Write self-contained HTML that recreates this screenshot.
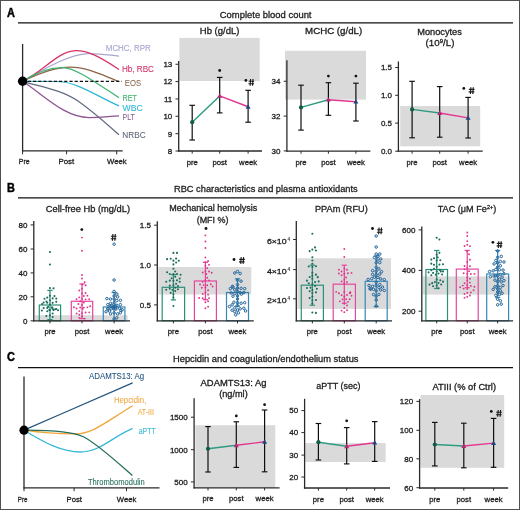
<!DOCTYPE html>
<html><head><meta charset="utf-8"><style>
html,body{margin:0;padding:0;background:#fff;}
svg{display:block;font-family:"Liberation Sans", sans-serif;will-change:transform;}
</style></head><body>
<svg width="520" height="510" viewBox="0 0 520 510">
<rect width="520" height="510" fill="#fff"/>
<rect x="0.50" y="0.50" width="519.00" height="509.00" fill="none" stroke="#505050" stroke-width="1"/>
<text x="7.00" y="16.80" font-size="12.3" fill="#000" text-anchor="start" font-weight="bold" stroke="#000" stroke-width="0.45" textLength="7.90" lengthAdjust="spacingAndGlyphs">A</text>
<text x="7.00" y="191.50" font-size="12.3" fill="#000" text-anchor="start" font-weight="bold" stroke="#000" stroke-width="0.45" textLength="7.90" lengthAdjust="spacingAndGlyphs">B</text>
<text x="7.00" y="361.00" font-size="12.3" fill="#000" text-anchor="start" font-weight="bold" stroke="#000" stroke-width="0.45" textLength="7.90" lengthAdjust="spacingAndGlyphs">C</text>
<line x1="18.00" y1="22.90" x2="513.00" y2="22.90" stroke="#111" stroke-width="1.25"/>
<line x1="18.00" y1="197.90" x2="513.00" y2="197.90" stroke="#111" stroke-width="1.25"/>
<line x1="18.00" y1="367.60" x2="513.00" y2="367.60" stroke="#111" stroke-width="1.25"/>
<text x="219.80" y="17.50" font-size="9.6" fill="#222" text-anchor="start" font-weight="normal" stroke="#222" stroke-width="0.3" textLength="91.70" lengthAdjust="spacingAndGlyphs">Complete blood count</text>
<text x="174.00" y="192.10" font-size="9.6" fill="#222" text-anchor="start" font-weight="normal" stroke="#222" stroke-width="0.3" textLength="183.70" lengthAdjust="spacingAndGlyphs">RBC characteristics and plasma antioxidants</text>
<text x="173.00" y="361.60" font-size="9.6" fill="#222" text-anchor="start" font-weight="normal" stroke="#222" stroke-width="0.3" textLength="185.50" lengthAdjust="spacingAndGlyphs">Hepcidin and coagulation/endothelium status</text>
<line x1="22.60" y1="44.00" x2="22.60" y2="151.50" stroke="#2a2a2a" stroke-width="1.3"/>
<line x1="22.00" y1="150.90" x2="122.70" y2="150.90" stroke="#2a2a2a" stroke-width="1.3"/>
<line x1="22.60" y1="150.90" x2="22.60" y2="154.30" stroke="#2a2a2a" stroke-width="1"/>
<line x1="66.60" y1="150.90" x2="66.60" y2="154.30" stroke="#2a2a2a" stroke-width="1"/>
<line x1="116.70" y1="150.90" x2="116.70" y2="154.30" stroke="#2a2a2a" stroke-width="1"/>
<text x="18.80" y="163.90" font-size="8" fill="#222" text-anchor="start" font-weight="normal" stroke="#222" stroke-width="0.3" textLength="10.80" lengthAdjust="spacingAndGlyphs">Pre</text>
<text x="58.50" y="163.90" font-size="8" fill="#222" text-anchor="start" font-weight="normal" stroke="#222" stroke-width="0.3" textLength="15.70" lengthAdjust="spacingAndGlyphs">Post</text>
<text x="107.00" y="163.90" font-size="8" fill="#222" text-anchor="start" font-weight="normal" stroke="#222" stroke-width="0.3" textLength="19.60" lengthAdjust="spacingAndGlyphs">Week</text>
<path d="M22.6,81.3 C40,72 65,55 88,53.6 C100,53.3 110,55.3 119,56.1" stroke="#a9a7d0" stroke-width="1.25" fill="none"/>
<path d="M22.6,81.3 C42,72 58,52 73.6,50.8 C88,50 100,57 119,69.4" stroke="#d6336a" stroke-width="1.25" fill="none"/>
<path d="M22.6,81.3 C40,73 55,67.3 70,67.2 C88,67.2 104,76 119,81.5" stroke="#8d6447" stroke-width="1.25" fill="none"/>
<path d="M22.6,81.3 C35,73 48,67.5 62.8,67.5 C75,67.5 95,82 119,97.8" stroke="#3db370" stroke-width="1.25" fill="none"/>
<path d="M22.6,81.3 L58,81.5 C78,82 100,98 119,105.9" stroke="#2bb6d6" stroke-width="1.25" fill="none"/>
<path d="M22.6,81.3 C42,87 62,90 78,101 C95,113 110,127 119,134.7" stroke="#626c84" stroke-width="1.25" fill="none"/>
<path d="M22.6,81.3 C45,96 65,117.5 89,117.5 C100,117.5 110,116.2 119,115.9" stroke="#8d5291" stroke-width="1.25" fill="none"/>
<line x1="22.60" y1="81.40" x2="121.90" y2="81.40" stroke="#111" stroke-width="1.1" stroke-dasharray="3.2,2"/>
<circle cx="22.6" cy="81.3" r="4.7" fill="#000"/>
<text x="105.80" y="50.60" font-size="8.5" fill="#a3a3cc" text-anchor="start" font-weight="normal" stroke="#a3a3cc" stroke-width="0.08" textLength="44.90" lengthAdjust="spacingAndGlyphs">MCHC, RPR</text>
<text x="121.90" y="72.30" font-size="8.5" fill="#d42d62" text-anchor="start" font-weight="normal" stroke="#d42d62" stroke-width="0.08" textLength="32.10" lengthAdjust="spacingAndGlyphs">Hb, RBC</text>
<text x="124.80" y="85.90" font-size="8.5" fill="#8d6a4f" text-anchor="start" font-weight="normal" stroke="#8d6a4f" stroke-width="0.08" textLength="16.20" lengthAdjust="spacingAndGlyphs">EOS</text>
<text x="122.50" y="100.90" font-size="8.5" fill="#3fb06f" text-anchor="start" font-weight="normal" stroke="#3fb06f" stroke-width="0.08" textLength="14.40" lengthAdjust="spacingAndGlyphs">RET</text>
<text x="122.50" y="110.80" font-size="8.5" fill="#2fb6d8" text-anchor="start" font-weight="normal" stroke="#2fb6d8" stroke-width="0.08" textLength="20.40" lengthAdjust="spacingAndGlyphs">WBC</text>
<text x="122.50" y="120.10" font-size="8.5" fill="#8b5a8d" text-anchor="start" font-weight="normal" stroke="#8b5a8d" stroke-width="0.08" textLength="12.30" lengthAdjust="spacingAndGlyphs">PLT</text>
<text x="122.30" y="137.80" font-size="8.5" fill="#5f687c" text-anchor="start" font-weight="normal" stroke="#5f687c" stroke-width="0.08" textLength="23.30" lengthAdjust="spacingAndGlyphs">NRBC</text>
<rect x="179.40" y="37.90" width="80.30" height="43.10" fill="#dadada" stroke="none" stroke-width="1"/>
<line x1="178.70" y1="61.00" x2="178.70" y2="151.65" stroke="#2a2a2a" stroke-width="1.3"/>
<line x1="178.05" y1="151.00" x2="262.00" y2="151.00" stroke="#2a2a2a" stroke-width="1.3"/>
<line x1="175.50" y1="151.00" x2="178.70" y2="151.00" stroke="#2a2a2a" stroke-width="1"/>
<text x="172.30" y="153.85" font-size="8" fill="#1e1e1e" text-anchor="end" font-weight="normal" stroke="#1e1e1e" stroke-width="0.3">8</text>
<line x1="175.50" y1="133.65" x2="178.70" y2="133.65" stroke="#2a2a2a" stroke-width="1"/>
<text x="172.30" y="136.50" font-size="8" fill="#1e1e1e" text-anchor="end" font-weight="normal" stroke="#1e1e1e" stroke-width="0.3">9</text>
<line x1="175.50" y1="116.30" x2="178.70" y2="116.30" stroke="#2a2a2a" stroke-width="1"/>
<text x="172.30" y="119.15" font-size="8" fill="#1e1e1e" text-anchor="end" font-weight="normal" stroke="#1e1e1e" stroke-width="0.3">10</text>
<line x1="175.50" y1="98.95" x2="178.70" y2="98.95" stroke="#2a2a2a" stroke-width="1"/>
<text x="172.30" y="101.80" font-size="8" fill="#1e1e1e" text-anchor="end" font-weight="normal" stroke="#1e1e1e" stroke-width="0.3">11</text>
<line x1="175.50" y1="81.60" x2="178.70" y2="81.60" stroke="#2a2a2a" stroke-width="1"/>
<text x="172.30" y="84.45" font-size="8" fill="#1e1e1e" text-anchor="end" font-weight="normal" stroke="#1e1e1e" stroke-width="0.3">12</text>
<line x1="175.50" y1="64.25" x2="178.70" y2="64.25" stroke="#2a2a2a" stroke-width="1"/>
<text x="172.30" y="67.10" font-size="8" fill="#1e1e1e" text-anchor="end" font-weight="normal" stroke="#1e1e1e" stroke-width="0.3">13</text>
<line x1="192.20" y1="151.00" x2="192.20" y2="153.60" stroke="#2a2a2a" stroke-width="1"/>
<text x="192.20" y="164.50" font-size="7.7" fill="#1e1e1e" text-anchor="middle" font-weight="normal" stroke="#1e1e1e" stroke-width="0.3">pre</text>
<line x1="219.70" y1="151.00" x2="219.70" y2="153.60" stroke="#2a2a2a" stroke-width="1"/>
<text x="219.70" y="164.50" font-size="7.7" fill="#1e1e1e" text-anchor="middle" font-weight="normal" stroke="#1e1e1e" stroke-width="0.3">post</text>
<line x1="248.10" y1="151.00" x2="248.10" y2="153.60" stroke="#2a2a2a" stroke-width="1"/>
<text x="248.10" y="164.50" font-size="7.7" fill="#1e1e1e" text-anchor="middle" font-weight="normal" stroke="#1e1e1e" stroke-width="0.3">week</text>
<line x1="192.20" y1="105.30" x2="192.20" y2="140.00" stroke="#0e0e0e" stroke-width="1.2"/>
<line x1="189.40" y1="105.30" x2="195.00" y2="105.30" stroke="#0e0e0e" stroke-width="1.15"/>
<line x1="189.40" y1="140.00" x2="195.00" y2="140.00" stroke="#0e0e0e" stroke-width="1.15"/>
<line x1="219.70" y1="77.40" x2="219.70" y2="112.90" stroke="#0e0e0e" stroke-width="1.2"/>
<line x1="216.90" y1="77.40" x2="222.50" y2="77.40" stroke="#0e0e0e" stroke-width="1.15"/>
<line x1="216.90" y1="112.90" x2="222.50" y2="112.90" stroke="#0e0e0e" stroke-width="1.15"/>
<line x1="248.10" y1="90.30" x2="248.10" y2="122.20" stroke="#0e0e0e" stroke-width="1.2"/>
<line x1="245.30" y1="90.30" x2="250.90" y2="90.30" stroke="#0e0e0e" stroke-width="1.15"/>
<line x1="245.30" y1="122.20" x2="250.90" y2="122.20" stroke="#0e0e0e" stroke-width="1.15"/>
<line x1="192.20" y1="122.20" x2="219.70" y2="95.90" stroke="#2e9b82" stroke-width="1.45"/>
<line x1="219.70" y1="95.90" x2="248.10" y2="106.80" stroke="#e2368f" stroke-width="1.45"/>
<circle cx="192.2" cy="122.2" r="2.1" fill="#155c48"/>
<path d="M217.20,97.80 L222.20,97.80 L219.70,93.40 Z" fill="#b02a72"/>
<path d="M245.60,108.70 L250.60,108.70 L248.10,104.30 Z" fill="#1f4580"/>
<circle cx="219.70" cy="70.50" r="1.4" fill="#111"/>
<circle cx="245.90" cy="80.40" r="1.4" fill="#111"/>
<path d="M250.10,85.80 L250.60,79.00 M252.50,85.80 L253.00,79.00 M248.60,81.20 L254.20,81.20 M248.40,83.70 L254.00,83.70" stroke="#1a1a1a" stroke-width="1.15" fill="none"/>
<text x="199.80" y="34.00" font-size="9.2" fill="#222" text-anchor="start" font-weight="normal" stroke="#222" stroke-width="0.3" textLength="39.60" lengthAdjust="spacingAndGlyphs">Hb (g/dL)</text>
<rect x="285.00" y="50.80" width="81.00" height="48.80" fill="#dadada" stroke="none" stroke-width="1"/>
<line x1="286.90" y1="60.30" x2="286.90" y2="151.75" stroke="#2a2a2a" stroke-width="1.3"/>
<line x1="286.25" y1="151.10" x2="370.40" y2="151.10" stroke="#2a2a2a" stroke-width="1.3"/>
<line x1="283.70" y1="150.90" x2="286.90" y2="150.90" stroke="#2a2a2a" stroke-width="1"/>
<text x="280.50" y="153.75" font-size="8" fill="#1e1e1e" text-anchor="end" font-weight="normal" stroke="#1e1e1e" stroke-width="0.3">30</text>
<line x1="283.70" y1="116.10" x2="286.90" y2="116.10" stroke="#2a2a2a" stroke-width="1"/>
<text x="280.50" y="118.95" font-size="8" fill="#1e1e1e" text-anchor="end" font-weight="normal" stroke="#1e1e1e" stroke-width="0.3">32</text>
<line x1="283.70" y1="81.25" x2="286.90" y2="81.25" stroke="#2a2a2a" stroke-width="1"/>
<text x="280.50" y="84.10" font-size="8" fill="#1e1e1e" text-anchor="end" font-weight="normal" stroke="#1e1e1e" stroke-width="0.3">34</text>
<line x1="301.00" y1="151.10" x2="301.00" y2="153.70" stroke="#2a2a2a" stroke-width="1"/>
<text x="301.00" y="164.60" font-size="7.7" fill="#1e1e1e" text-anchor="middle" font-weight="normal" stroke="#1e1e1e" stroke-width="0.3">pre</text>
<line x1="328.40" y1="151.10" x2="328.40" y2="153.70" stroke="#2a2a2a" stroke-width="1"/>
<text x="328.40" y="164.60" font-size="7.7" fill="#1e1e1e" text-anchor="middle" font-weight="normal" stroke="#1e1e1e" stroke-width="0.3">post</text>
<line x1="355.90" y1="151.10" x2="355.90" y2="153.70" stroke="#2a2a2a" stroke-width="1"/>
<text x="355.90" y="164.60" font-size="7.7" fill="#1e1e1e" text-anchor="middle" font-weight="normal" stroke="#1e1e1e" stroke-width="0.3">week</text>
<line x1="301.00" y1="85.20" x2="301.00" y2="130.10" stroke="#0e0e0e" stroke-width="1.2"/>
<line x1="298.20" y1="85.20" x2="303.80" y2="85.20" stroke="#0e0e0e" stroke-width="1.15"/>
<line x1="298.20" y1="130.10" x2="303.80" y2="130.10" stroke="#0e0e0e" stroke-width="1.15"/>
<line x1="328.40" y1="82.70" x2="328.40" y2="115.30" stroke="#0e0e0e" stroke-width="1.2"/>
<line x1="325.60" y1="82.70" x2="331.20" y2="82.70" stroke="#0e0e0e" stroke-width="1.15"/>
<line x1="325.60" y1="115.30" x2="331.20" y2="115.30" stroke="#0e0e0e" stroke-width="1.15"/>
<line x1="355.90" y1="83.20" x2="355.90" y2="121.00" stroke="#0e0e0e" stroke-width="1.2"/>
<line x1="353.10" y1="83.20" x2="358.70" y2="83.20" stroke="#0e0e0e" stroke-width="1.15"/>
<line x1="353.10" y1="121.00" x2="358.70" y2="121.00" stroke="#0e0e0e" stroke-width="1.15"/>
<line x1="301.00" y1="107.40" x2="328.40" y2="99.70" stroke="#2e9b82" stroke-width="1.45"/>
<line x1="328.40" y1="99.70" x2="355.90" y2="101.70" stroke="#e2368f" stroke-width="1.45"/>
<circle cx="301" cy="107.4" r="2.1" fill="#155c48"/>
<path d="M325.90,101.60 L330.90,101.60 L328.40,97.20 Z" fill="#b02a72"/>
<path d="M353.40,103.60 L358.40,103.60 L355.90,99.20 Z" fill="#1f4580"/>
<circle cx="328.40" cy="76.10" r="1.4" fill="#111"/>
<circle cx="355.90" cy="76.10" r="1.4" fill="#111"/>
<text x="305.10" y="33.80" font-size="9.2" fill="#222" text-anchor="start" font-weight="normal" stroke="#222" stroke-width="0.3" textLength="57.10" lengthAdjust="spacingAndGlyphs">MCHC (g/dL)</text>
<rect x="400.20" y="106.00" width="80.00" height="40.30" fill="#dadada" stroke="none" stroke-width="1"/>
<line x1="398.40" y1="61.40" x2="398.40" y2="151.75" stroke="#2a2a2a" stroke-width="1.3"/>
<line x1="397.75" y1="151.10" x2="482.70" y2="151.10" stroke="#2a2a2a" stroke-width="1.3"/>
<line x1="395.20" y1="151.20" x2="398.40" y2="151.20" stroke="#2a2a2a" stroke-width="1"/>
<text x="392.00" y="154.05" font-size="8" fill="#1e1e1e" text-anchor="end" font-weight="normal" stroke="#1e1e1e" stroke-width="0.3">0.0</text>
<line x1="395.20" y1="123.10" x2="398.40" y2="123.10" stroke="#2a2a2a" stroke-width="1"/>
<text x="392.00" y="125.95" font-size="8" fill="#1e1e1e" text-anchor="end" font-weight="normal" stroke="#1e1e1e" stroke-width="0.3">0.5</text>
<line x1="395.20" y1="95.30" x2="398.40" y2="95.30" stroke="#2a2a2a" stroke-width="1"/>
<text x="392.00" y="98.15" font-size="8" fill="#1e1e1e" text-anchor="end" font-weight="normal" stroke="#1e1e1e" stroke-width="0.3">1.0</text>
<line x1="395.20" y1="67.50" x2="398.40" y2="67.50" stroke="#2a2a2a" stroke-width="1"/>
<text x="392.00" y="70.35" font-size="8" fill="#1e1e1e" text-anchor="end" font-weight="normal" stroke="#1e1e1e" stroke-width="0.3">1.5</text>
<line x1="412.10" y1="151.10" x2="412.10" y2="153.70" stroke="#2a2a2a" stroke-width="1"/>
<text x="412.10" y="164.60" font-size="7.7" fill="#1e1e1e" text-anchor="middle" font-weight="normal" stroke="#1e1e1e" stroke-width="0.3">pre</text>
<line x1="439.70" y1="151.10" x2="439.70" y2="153.70" stroke="#2a2a2a" stroke-width="1"/>
<text x="439.70" y="164.60" font-size="7.7" fill="#1e1e1e" text-anchor="middle" font-weight="normal" stroke="#1e1e1e" stroke-width="0.3">post</text>
<line x1="468.10" y1="151.10" x2="468.10" y2="153.70" stroke="#2a2a2a" stroke-width="1"/>
<text x="468.10" y="164.60" font-size="7.7" fill="#1e1e1e" text-anchor="middle" font-weight="normal" stroke="#1e1e1e" stroke-width="0.3">week</text>
<line x1="412.10" y1="81.30" x2="412.10" y2="137.80" stroke="#0e0e0e" stroke-width="1.2"/>
<line x1="409.30" y1="81.30" x2="414.90" y2="81.30" stroke="#0e0e0e" stroke-width="1.15"/>
<line x1="409.30" y1="137.80" x2="414.90" y2="137.80" stroke="#0e0e0e" stroke-width="1.15"/>
<line x1="439.70" y1="86.60" x2="439.70" y2="137.20" stroke="#0e0e0e" stroke-width="1.2"/>
<line x1="436.90" y1="86.60" x2="442.50" y2="86.60" stroke="#0e0e0e" stroke-width="1.15"/>
<line x1="436.90" y1="137.20" x2="442.50" y2="137.20" stroke="#0e0e0e" stroke-width="1.15"/>
<line x1="468.10" y1="97.40" x2="468.10" y2="138.00" stroke="#0e0e0e" stroke-width="1.2"/>
<line x1="465.30" y1="97.40" x2="470.90" y2="97.40" stroke="#0e0e0e" stroke-width="1.15"/>
<line x1="465.30" y1="138.00" x2="470.90" y2="138.00" stroke="#0e0e0e" stroke-width="1.15"/>
<line x1="412.10" y1="109.40" x2="439.70" y2="113.00" stroke="#2e9b82" stroke-width="1.45"/>
<line x1="439.70" y1="113.00" x2="468.10" y2="117.90" stroke="#e2368f" stroke-width="1.45"/>
<circle cx="412.1" cy="109.4" r="2.1" fill="#155c48"/>
<path d="M437.20,114.90 L442.20,114.90 L439.70,110.50 Z" fill="#b02a72"/>
<path d="M465.60,119.80 L470.60,119.80 L468.10,115.40 Z" fill="#1f4580"/>
<circle cx="463.80" cy="88.40" r="1.4" fill="#111"/>
<path d="M470.40,94.00 L470.90,87.20 M472.80,94.00 L473.30,87.20 M468.90,89.40 L474.50,89.40 M468.70,91.90 L474.30,91.90" stroke="#1a1a1a" stroke-width="1.15" fill="none"/>
<text x="417.20" y="34.60" font-size="9.2" fill="#222" text-anchor="start" font-weight="normal" stroke="#222" stroke-width="0.3" textLength="44.70" lengthAdjust="spacingAndGlyphs">Monocytes</text>
<text x="425.60" y="46.10" font-size="9.2" fill="#1e1e1e" text-anchor="start" font-weight="normal" stroke="#1e1e1e" stroke-width="0.3" textLength="28.80" lengthAdjust="spacingAndGlyphs">(10<tspan font-size="5.6" dy="-3.4">9</tspan><tspan dy="3.4">/L)</tspan></text>
<rect x="35.00" y="315.20" width="92.60" height="5.60" fill="#dadada" stroke="none" stroke-width="1"/>
<rect x="39.30" y="305.00" width="21.30" height="15.80" fill="none" stroke="#2c8f79" stroke-width="1.2"/>
<line x1="49.95" y1="290.40" x2="49.95" y2="319.60" stroke="#2c8f79" stroke-width="1.25"/>
<line x1="47.35" y1="290.40" x2="52.55" y2="290.40" stroke="#2c8f79" stroke-width="1.25"/>
<line x1="47.35" y1="319.60" x2="52.55" y2="319.60" stroke="#2c8f79" stroke-width="1.25"/>
<circle cx="49.95" cy="304.54" r="1.05" fill="#1b6f5b"/>
<circle cx="49.95" cy="252.00" r="1.05" fill="#1b6f5b"/>
<circle cx="49.95" cy="309.99" r="1.05" fill="#1b6f5b"/>
<circle cx="49.95" cy="300.32" r="1.05" fill="#1b6f5b"/>
<circle cx="49.95" cy="315.37" r="1.05" fill="#1b6f5b"/>
<circle cx="52.65" cy="313.55" r="1.05" fill="#1b6f5b"/>
<circle cx="52.65" cy="302.87" r="1.05" fill="#1b6f5b"/>
<circle cx="52.65" cy="298.39" r="1.05" fill="#1b6f5b"/>
<circle cx="47.25" cy="302.74" r="1.05" fill="#1b6f5b"/>
<circle cx="49.95" cy="288.09" r="1.05" fill="#1b6f5b"/>
<circle cx="53.55" cy="310.11" r="1.05" fill="#1b6f5b"/>
<circle cx="49.95" cy="295.70" r="1.05" fill="#1b6f5b"/>
<circle cx="47.25" cy="297.60" r="1.05" fill="#1b6f5b"/>
<circle cx="47.25" cy="311.32" r="1.05" fill="#1b6f5b"/>
<circle cx="47.25" cy="308.05" r="1.05" fill="#1b6f5b"/>
<circle cx="56.25" cy="308.95" r="1.05" fill="#1b6f5b"/>
<circle cx="43.65" cy="308.09" r="1.05" fill="#1b6f5b"/>
<circle cx="51.75" cy="307.49" r="1.05" fill="#1b6f5b"/>
<circle cx="44.55" cy="298.80" r="1.05" fill="#1b6f5b"/>
<circle cx="56.25" cy="301.85" r="1.05" fill="#1b6f5b"/>
<circle cx="52.65" cy="316.97" r="1.05" fill="#1b6f5b"/>
<circle cx="52.35" cy="307.48" r="1.05" fill="#1b6f5b"/>
<circle cx="57.99" cy="310.21" r="1.05" fill="#1b6f5b"/>
<circle cx="43.65" cy="302.44" r="1.05" fill="#1b6f5b"/>
<circle cx="41.85" cy="310.57" r="1.05" fill="#1b6f5b"/>
<circle cx="55.20" cy="309.24" r="1.05" fill="#1b6f5b"/>
<circle cx="49.95" cy="264.50" r="1.05" fill="#1b6f5b"/>
<circle cx="53.55" cy="288.34" r="1.05" fill="#1b6f5b"/>
<circle cx="54.45" cy="296.10" r="1.05" fill="#1b6f5b"/>
<circle cx="56.25" cy="298.58" r="1.05" fill="#1b6f5b"/>
<circle cx="46.35" cy="316.12" r="1.05" fill="#1b6f5b"/>
<circle cx="46.44" cy="301.56" r="1.05" fill="#1b6f5b"/>
<circle cx="48.09" cy="306.85" r="1.05" fill="#1b6f5b"/>
<circle cx="52.70" cy="308.94" r="1.05" fill="#1b6f5b"/>
<circle cx="42.17" cy="303.94" r="1.05" fill="#1b6f5b"/>
<circle cx="49.33" cy="310.06" r="1.05" fill="#1b6f5b"/>
<rect x="71.30" y="301.30" width="21.40" height="19.50" fill="none" stroke="#e6479d" stroke-width="1.2"/>
<line x1="82.00" y1="284.00" x2="82.00" y2="318.60" stroke="#e6479d" stroke-width="1.25"/>
<line x1="79.40" y1="284.00" x2="84.60" y2="284.00" stroke="#e6479d" stroke-width="1.25"/>
<line x1="79.40" y1="318.60" x2="84.60" y2="318.60" stroke="#e6479d" stroke-width="1.25"/>
<circle cx="82.00" cy="313.23" r="0.95" fill="#e0358c"/>
<circle cx="82.00" cy="237.60" r="0.95" fill="#e0358c"/>
<circle cx="82.00" cy="304.90" r="0.95" fill="#e0358c"/>
<circle cx="82.00" cy="298.79" r="0.95" fill="#e0358c"/>
<circle cx="82.00" cy="316.38" r="0.95" fill="#e0358c"/>
<circle cx="85.60" cy="312.46" r="0.95" fill="#e0358c"/>
<circle cx="82.00" cy="284.44" r="0.95" fill="#e0358c"/>
<circle cx="83.80" cy="307.62" r="0.95" fill="#e0358c"/>
<circle cx="85.60" cy="299.38" r="0.95" fill="#e0358c"/>
<circle cx="80.20" cy="307.57" r="0.95" fill="#e0358c"/>
<circle cx="80.20" cy="301.32" r="0.95" fill="#e0358c"/>
<circle cx="82.00" cy="278.50" r="0.95" fill="#e0358c"/>
<circle cx="79.30" cy="314.75" r="0.95" fill="#e0358c"/>
<circle cx="85.60" cy="285.27" r="0.95" fill="#e0358c"/>
<circle cx="82.00" cy="288.68" r="0.95" fill="#e0358c"/>
<circle cx="82.00" cy="293.40" r="0.95" fill="#e0358c"/>
<circle cx="87.40" cy="307.36" r="0.95" fill="#e0358c"/>
<circle cx="85.60" cy="293.06" r="0.95" fill="#e0358c"/>
<circle cx="79.30" cy="297.42" r="0.95" fill="#e0358c"/>
<circle cx="79.30" cy="311.11" r="0.95" fill="#e0358c"/>
<circle cx="76.60" cy="299.21" r="0.95" fill="#e0358c"/>
<circle cx="83.80" cy="296.02" r="0.95" fill="#e0358c"/>
<circle cx="89.20" cy="299.20" r="0.95" fill="#e0358c"/>
<circle cx="76.60" cy="313.50" r="0.95" fill="#e0358c"/>
<circle cx="76.60" cy="308.43" r="0.95" fill="#e0358c"/>
<circle cx="73.90" cy="307.22" r="0.95" fill="#e0358c"/>
<circle cx="84.70" cy="318.59" r="0.95" fill="#e0358c"/>
<circle cx="87.40" cy="295.66" r="0.95" fill="#e0358c"/>
<circle cx="82.00" cy="275.00" r="0.95" fill="#e0358c"/>
<circle cx="83.80" cy="302.44" r="0.95" fill="#e0358c"/>
<circle cx="84.70" cy="282.18" r="0.95" fill="#e0358c"/>
<circle cx="90.10" cy="306.21" r="0.95" fill="#e0358c"/>
<circle cx="79.30" cy="317.86" r="0.95" fill="#e0358c"/>
<circle cx="79.30" cy="290.43" r="0.95" fill="#e0358c"/>
<circle cx="82.71" cy="308.80" r="0.95" fill="#e0358c"/>
<circle cx="78.40" cy="303.95" r="0.95" fill="#e0358c"/>
<circle cx="82.00" cy="250.80" r="0.95" fill="#e0358c"/>
<circle cx="89.20" cy="312.36" r="0.95" fill="#e0358c"/>
<rect x="103.30" y="307.00" width="21.60" height="13.80" fill="none" stroke="#3887b5" stroke-width="1.2"/>
<line x1="114.10" y1="292.50" x2="114.10" y2="320.80" stroke="#3887b5" stroke-width="1.25"/>
<line x1="111.50" y1="292.50" x2="116.70" y2="292.50" stroke="#3887b5" stroke-width="1.25"/>
<circle cx="114.10" cy="302.81" r="1.25" fill="none" stroke="#24659a" stroke-width="1.0"/>
<circle cx="114.10" cy="306.59" r="1.25" fill="none" stroke="#24659a" stroke-width="1.0"/>
<circle cx="116.80" cy="305.32" r="1.25" fill="none" stroke="#24659a" stroke-width="1.0"/>
<circle cx="115.90" cy="309.11" r="1.25" fill="none" stroke="#24659a" stroke-width="1.0"/>
<circle cx="116.80" cy="300.56" r="1.25" fill="none" stroke="#24659a" stroke-width="1.0"/>
<circle cx="114.10" cy="291.40" r="1.25" fill="none" stroke="#24659a" stroke-width="1.0"/>
<circle cx="110.50" cy="303.36" r="1.25" fill="none" stroke="#24659a" stroke-width="1.0"/>
<circle cx="111.40" cy="308.68" r="1.25" fill="none" stroke="#24659a" stroke-width="1.0"/>
<circle cx="114.10" cy="280.00" r="1.25" fill="none" stroke="#24659a" stroke-width="1.0"/>
<circle cx="119.50" cy="308.16" r="1.25" fill="none" stroke="#24659a" stroke-width="1.0"/>
<circle cx="114.10" cy="244.20" r="1.25" fill="none" stroke="#24659a" stroke-width="1.0"/>
<circle cx="107.80" cy="308.53" r="1.25" fill="none" stroke="#24659a" stroke-width="1.0"/>
<circle cx="114.10" cy="299.04" r="1.25" fill="none" stroke="#24659a" stroke-width="1.0"/>
<circle cx="110.50" cy="299.08" r="1.25" fill="none" stroke="#24659a" stroke-width="1.0"/>
<circle cx="122.20" cy="309.77" r="1.25" fill="none" stroke="#24659a" stroke-width="1.0"/>
<circle cx="114.10" cy="319.00" r="1.25" fill="none" stroke="#24659a" stroke-width="1.0"/>
<circle cx="120.40" cy="300.39" r="1.25" fill="none" stroke="#24659a" stroke-width="1.0"/>
<circle cx="114.10" cy="312.89" r="1.25" fill="none" stroke="#24659a" stroke-width="1.0"/>
<circle cx="117.70" cy="313.89" r="1.25" fill="none" stroke="#24659a" stroke-width="1.0"/>
<circle cx="115.53" cy="307.86" r="1.25" fill="none" stroke="#24659a" stroke-width="1.0"/>
<circle cx="110.50" cy="313.85" r="1.25" fill="none" stroke="#24659a" stroke-width="1.0"/>
<circle cx="116.80" cy="317.87" r="1.25" fill="none" stroke="#24659a" stroke-width="1.0"/>
<circle cx="120.40" cy="312.74" r="1.25" fill="none" stroke="#24659a" stroke-width="1.0"/>
<circle cx="120.40" cy="304.68" r="1.25" fill="none" stroke="#24659a" stroke-width="1.0"/>
<circle cx="107.80" cy="304.58" r="1.25" fill="none" stroke="#24659a" stroke-width="1.0"/>
<circle cx="109.60" cy="311.04" r="1.25" fill="none" stroke="#24659a" stroke-width="1.0"/>
<circle cx="114.10" cy="296.01" r="1.25" fill="none" stroke="#24659a" stroke-width="1.0"/>
<circle cx="110.11" cy="306.07" r="1.25" fill="none" stroke="#24659a" stroke-width="1.0"/>
<circle cx="116.80" cy="294.01" r="1.25" fill="none" stroke="#24659a" stroke-width="1.0"/>
<circle cx="112.76" cy="307.39" r="1.25" fill="none" stroke="#24659a" stroke-width="1.0"/>
<circle cx="117.70" cy="296.89" r="1.25" fill="none" stroke="#24659a" stroke-width="1.0"/>
<circle cx="106.90" cy="298.61" r="1.25" fill="none" stroke="#24659a" stroke-width="1.0"/>
<circle cx="107.98" cy="308.87" r="1.25" fill="none" stroke="#24659a" stroke-width="1.0"/>
<circle cx="120.91" cy="310.56" r="1.25" fill="none" stroke="#24659a" stroke-width="1.0"/>
<circle cx="111.67" cy="305.33" r="1.25" fill="none" stroke="#24659a" stroke-width="1.0"/>
<circle cx="106.00" cy="311.77" r="1.25" fill="none" stroke="#24659a" stroke-width="1.0"/>
<circle cx="113.41" cy="308.46" r="1.25" fill="none" stroke="#24659a" stroke-width="1.0"/>
<circle cx="115.48" cy="305.72" r="1.25" fill="none" stroke="#24659a" stroke-width="1.0"/>
<line x1="33.80" y1="221.00" x2="33.80" y2="321.45" stroke="#2a2a2a" stroke-width="1.3"/>
<line x1="33.15" y1="320.80" x2="130.00" y2="320.80" stroke="#2a2a2a" stroke-width="1.3"/>
<line x1="30.60" y1="320.80" x2="33.80" y2="320.80" stroke="#2a2a2a" stroke-width="1"/>
<text x="27.40" y="323.65" font-size="8" fill="#1e1e1e" text-anchor="end" font-weight="normal" stroke="#1e1e1e" stroke-width="0.3">0</text>
<line x1="30.60" y1="296.80" x2="33.80" y2="296.80" stroke="#2a2a2a" stroke-width="1"/>
<text x="27.40" y="299.65" font-size="8" fill="#1e1e1e" text-anchor="end" font-weight="normal" stroke="#1e1e1e" stroke-width="0.3">20</text>
<line x1="30.60" y1="272.90" x2="33.80" y2="272.90" stroke="#2a2a2a" stroke-width="1"/>
<text x="27.40" y="275.75" font-size="8" fill="#1e1e1e" text-anchor="end" font-weight="normal" stroke="#1e1e1e" stroke-width="0.3">40</text>
<line x1="30.60" y1="249.00" x2="33.80" y2="249.00" stroke="#2a2a2a" stroke-width="1"/>
<text x="27.40" y="251.85" font-size="8" fill="#1e1e1e" text-anchor="end" font-weight="normal" stroke="#1e1e1e" stroke-width="0.3">60</text>
<line x1="30.60" y1="224.90" x2="33.80" y2="224.90" stroke="#2a2a2a" stroke-width="1"/>
<text x="27.40" y="227.75" font-size="8" fill="#1e1e1e" text-anchor="end" font-weight="normal" stroke="#1e1e1e" stroke-width="0.3">80</text>
<line x1="49.95" y1="320.80" x2="49.95" y2="323.40" stroke="#2a2a2a" stroke-width="1"/>
<text x="49.95" y="334.30" font-size="7.7" fill="#1e1e1e" text-anchor="middle" font-weight="normal" stroke="#1e1e1e" stroke-width="0.3">pre</text>
<line x1="82.00" y1="320.80" x2="82.00" y2="323.40" stroke="#2a2a2a" stroke-width="1"/>
<text x="82.00" y="334.30" font-size="7.7" fill="#1e1e1e" text-anchor="middle" font-weight="normal" stroke="#1e1e1e" stroke-width="0.3">post</text>
<line x1="114.10" y1="320.80" x2="114.10" y2="323.40" stroke="#2a2a2a" stroke-width="1"/>
<text x="114.10" y="334.30" font-size="7.7" fill="#1e1e1e" text-anchor="middle" font-weight="normal" stroke="#1e1e1e" stroke-width="0.3">week</text>
<circle cx="81.80" cy="229.60" r="1.4" fill="#111"/>
<path d="M112.40,240.80 L112.90,234.00 M114.80,240.80 L115.30,234.00 M110.90,236.20 L116.50,236.20 M110.70,238.70 L116.30,238.70" stroke="#1a1a1a" stroke-width="1.15" fill="none"/>
<text x="45.80" y="211.50" font-size="9.2" fill="#222" text-anchor="start" font-weight="normal" stroke="#222" stroke-width="0.3" textLength="84.20" lengthAdjust="spacingAndGlyphs">Cell-free Hb (mg/dL)</text>
<rect x="158.30" y="267.00" width="93.00" height="27.50" fill="#dadada" stroke="none" stroke-width="1"/>
<rect x="162.20" y="287.30" width="22.40" height="33.50" fill="none" stroke="#2c8f79" stroke-width="1.2"/>
<line x1="173.40" y1="274.70" x2="173.40" y2="299.90" stroke="#2c8f79" stroke-width="1.25"/>
<line x1="170.80" y1="274.70" x2="176.00" y2="274.70" stroke="#2c8f79" stroke-width="1.25"/>
<line x1="170.80" y1="299.90" x2="176.00" y2="299.90" stroke="#2c8f79" stroke-width="1.25"/>
<circle cx="173.40" cy="264.40" r="1.05" fill="#1b6f5b"/>
<circle cx="173.40" cy="260.66" r="1.05" fill="#1b6f5b"/>
<circle cx="173.40" cy="285.30" r="1.05" fill="#1b6f5b"/>
<circle cx="173.40" cy="305.95" r="1.05" fill="#1b6f5b"/>
<circle cx="173.40" cy="274.17" r="1.05" fill="#1b6f5b"/>
<circle cx="173.40" cy="252.90" r="1.05" fill="#1b6f5b"/>
<circle cx="177.00" cy="274.11" r="1.05" fill="#1b6f5b"/>
<circle cx="175.20" cy="287.80" r="1.05" fill="#1b6f5b"/>
<circle cx="173.40" cy="280.85" r="1.05" fill="#1b6f5b"/>
<circle cx="172.50" cy="290.05" r="1.05" fill="#1b6f5b"/>
<circle cx="177.00" cy="280.21" r="1.05" fill="#1b6f5b"/>
<circle cx="169.80" cy="274.00" r="1.05" fill="#1b6f5b"/>
<circle cx="176.10" cy="258.61" r="1.05" fill="#1b6f5b"/>
<circle cx="176.10" cy="262.46" r="1.05" fill="#1b6f5b"/>
<circle cx="169.80" cy="285.63" r="1.05" fill="#1b6f5b"/>
<circle cx="176.10" cy="283.78" r="1.05" fill="#1b6f5b"/>
<circle cx="169.80" cy="280.63" r="1.05" fill="#1b6f5b"/>
<circle cx="179.70" cy="278.50" r="1.05" fill="#1b6f5b"/>
<circle cx="171.60" cy="278.19" r="1.05" fill="#1b6f5b"/>
<circle cx="177.90" cy="289.23" r="1.05" fill="#1b6f5b"/>
<circle cx="180.60" cy="274.75" r="1.05" fill="#1b6f5b"/>
<circle cx="170.70" cy="258.78" r="1.05" fill="#1b6f5b"/>
<circle cx="177.90" cy="286.08" r="1.05" fill="#1b6f5b"/>
<circle cx="179.70" cy="281.79" r="1.05" fill="#1b6f5b"/>
<circle cx="175.20" cy="291.11" r="1.05" fill="#1b6f5b"/>
<circle cx="178.80" cy="260.75" r="1.05" fill="#1b6f5b"/>
<circle cx="169.80" cy="288.78" r="1.05" fill="#1b6f5b"/>
<circle cx="173.40" cy="297.58" r="1.05" fill="#1b6f5b"/>
<circle cx="166.20" cy="281.68" r="1.05" fill="#1b6f5b"/>
<circle cx="173.40" cy="294.30" r="1.05" fill="#1b6f5b"/>
<circle cx="175.20" cy="271.55" r="1.05" fill="#1b6f5b"/>
<circle cx="170.70" cy="292.86" r="1.05" fill="#1b6f5b"/>
<circle cx="166.20" cy="289.78" r="1.05" fill="#1b6f5b"/>
<circle cx="167.10" cy="259.17" r="1.05" fill="#1b6f5b"/>
<circle cx="173.40" cy="268.68" r="1.05" fill="#1b6f5b"/>
<circle cx="177.00" cy="252.90" r="1.05" fill="#1b6f5b"/>
<circle cx="167.10" cy="272.30" r="1.05" fill="#1b6f5b"/>
<circle cx="175.20" cy="276.82" r="1.05" fill="#1b6f5b"/>
<rect x="194.40" y="281.00" width="22.00" height="39.80" fill="none" stroke="#e6479d" stroke-width="1.2"/>
<line x1="205.40" y1="262.30" x2="205.40" y2="299.70" stroke="#e6479d" stroke-width="1.25"/>
<line x1="202.80" y1="262.30" x2="208.00" y2="262.30" stroke="#e6479d" stroke-width="1.25"/>
<line x1="202.80" y1="299.70" x2="208.00" y2="299.70" stroke="#e6479d" stroke-width="1.25"/>
<circle cx="205.40" cy="308.27" r="0.95" fill="#e0358c"/>
<circle cx="205.40" cy="280.26" r="0.95" fill="#e0358c"/>
<circle cx="205.40" cy="292.53" r="0.95" fill="#e0358c"/>
<circle cx="205.40" cy="287.55" r="0.95" fill="#e0358c"/>
<circle cx="207.20" cy="285.21" r="0.95" fill="#e0358c"/>
<circle cx="203.60" cy="285.08" r="0.95" fill="#e0358c"/>
<circle cx="205.40" cy="248.00" r="0.95" fill="#e0358c"/>
<circle cx="205.40" cy="299.28" r="0.95" fill="#e0358c"/>
<circle cx="205.40" cy="271.11" r="0.95" fill="#e0358c"/>
<circle cx="208.10" cy="290.28" r="0.95" fill="#e0358c"/>
<circle cx="208.10" cy="294.63" r="0.95" fill="#e0358c"/>
<circle cx="205.40" cy="241.50" r="0.95" fill="#e0358c"/>
<circle cx="205.40" cy="262.26" r="0.95" fill="#e0358c"/>
<circle cx="201.80" cy="287.79" r="0.95" fill="#e0358c"/>
<circle cx="209.00" cy="280.33" r="0.95" fill="#e0358c"/>
<circle cx="208.10" cy="306.80" r="0.95" fill="#e0358c"/>
<circle cx="205.40" cy="257.56" r="0.95" fill="#e0358c"/>
<circle cx="202.70" cy="281.84" r="0.95" fill="#e0358c"/>
<circle cx="206.30" cy="274.00" r="0.95" fill="#e0358c"/>
<circle cx="205.40" cy="302.31" r="0.95" fill="#e0358c"/>
<circle cx="210.80" cy="284.20" r="0.95" fill="#e0358c"/>
<circle cx="202.70" cy="293.96" r="0.95" fill="#e0358c"/>
<circle cx="209.00" cy="271.49" r="0.95" fill="#e0358c"/>
<circle cx="209.00" cy="298.26" r="0.95" fill="#e0358c"/>
<circle cx="202.70" cy="298.18" r="0.95" fill="#e0358c"/>
<circle cx="207.20" cy="277.82" r="0.95" fill="#e0358c"/>
<circle cx="208.10" cy="301.21" r="0.95" fill="#e0358c"/>
<circle cx="208.10" cy="260.96" r="0.95" fill="#e0358c"/>
<circle cx="202.70" cy="272.57" r="0.95" fill="#e0358c"/>
<circle cx="205.40" cy="265.82" r="0.95" fill="#e0358c"/>
<circle cx="205.40" cy="235.40" r="0.95" fill="#e0358c"/>
<circle cx="200.00" cy="284.45" r="0.95" fill="#e0358c"/>
<circle cx="207.20" cy="268.14" r="0.95" fill="#e0358c"/>
<circle cx="199.10" cy="297.98" r="0.95" fill="#e0358c"/>
<circle cx="212.60" cy="286.52" r="0.95" fill="#e0358c"/>
<circle cx="211.70" cy="272.70" r="0.95" fill="#e0358c"/>
<circle cx="209.00" cy="264.82" r="0.95" fill="#e0358c"/>
<rect x="226.50" y="292.50" width="22.00" height="28.30" fill="none" stroke="#3887b5" stroke-width="1.2"/>
<line x1="237.50" y1="278.80" x2="237.50" y2="306.20" stroke="#3887b5" stroke-width="1.25"/>
<line x1="234.90" y1="278.80" x2="240.10" y2="278.80" stroke="#3887b5" stroke-width="1.25"/>
<line x1="234.90" y1="306.20" x2="240.10" y2="306.20" stroke="#3887b5" stroke-width="1.25"/>
<circle cx="237.50" cy="288.12" r="1.25" fill="none" stroke="#24659a" stroke-width="1.0"/>
<circle cx="237.50" cy="271.49" r="1.25" fill="none" stroke="#24659a" stroke-width="1.0"/>
<circle cx="237.50" cy="309.98" r="1.25" fill="none" stroke="#24659a" stroke-width="1.0"/>
<circle cx="237.50" cy="280.21" r="1.25" fill="none" stroke="#24659a" stroke-width="1.0"/>
<circle cx="237.50" cy="291.52" r="1.25" fill="none" stroke="#24659a" stroke-width="1.0"/>
<circle cx="238.40" cy="312.83" r="1.25" fill="none" stroke="#24659a" stroke-width="1.0"/>
<circle cx="237.50" cy="295.88" r="1.25" fill="none" stroke="#24659a" stroke-width="1.0"/>
<circle cx="234.80" cy="311.74" r="1.25" fill="none" stroke="#24659a" stroke-width="1.0"/>
<circle cx="240.20" cy="292.62" r="1.25" fill="none" stroke="#24659a" stroke-width="1.0"/>
<circle cx="237.50" cy="302.70" r="1.25" fill="none" stroke="#24659a" stroke-width="1.0"/>
<circle cx="241.10" cy="288.32" r="1.25" fill="none" stroke="#24659a" stroke-width="1.0"/>
<circle cx="237.50" cy="298.97" r="1.25" fill="none" stroke="#24659a" stroke-width="1.0"/>
<circle cx="234.80" cy="293.49" r="1.25" fill="none" stroke="#24659a" stroke-width="1.0"/>
<circle cx="241.10" cy="281.18" r="1.25" fill="none" stroke="#24659a" stroke-width="1.0"/>
<circle cx="240.20" cy="308.85" r="1.25" fill="none" stroke="#24659a" stroke-width="1.0"/>
<circle cx="241.10" cy="303.23" r="1.25" fill="none" stroke="#24659a" stroke-width="1.0"/>
<circle cx="243.80" cy="292.59" r="1.25" fill="none" stroke="#24659a" stroke-width="1.0"/>
<circle cx="231.20" cy="292.94" r="1.25" fill="none" stroke="#24659a" stroke-width="1.0"/>
<circle cx="241.40" cy="294.13" r="1.25" fill="none" stroke="#24659a" stroke-width="1.0"/>
<circle cx="233.90" cy="302.22" r="1.25" fill="none" stroke="#24659a" stroke-width="1.0"/>
<circle cx="234.80" cy="289.83" r="1.25" fill="none" stroke="#24659a" stroke-width="1.0"/>
<circle cx="234.80" cy="307.86" r="1.25" fill="none" stroke="#24659a" stroke-width="1.0"/>
<circle cx="237.50" cy="284.65" r="1.25" fill="none" stroke="#24659a" stroke-width="1.0"/>
<circle cx="233.00" cy="296.21" r="1.25" fill="none" stroke="#24659a" stroke-width="1.0"/>
<circle cx="243.80" cy="308.23" r="1.25" fill="none" stroke="#24659a" stroke-width="1.0"/>
<circle cx="232.10" cy="310.15" r="1.25" fill="none" stroke="#24659a" stroke-width="1.0"/>
<circle cx="237.50" cy="305.64" r="1.25" fill="none" stroke="#24659a" stroke-width="1.0"/>
<circle cx="244.70" cy="302.73" r="1.25" fill="none" stroke="#24659a" stroke-width="1.0"/>
<circle cx="240.20" cy="273.52" r="1.25" fill="none" stroke="#24659a" stroke-width="1.0"/>
<circle cx="232.10" cy="304.85" r="1.25" fill="none" stroke="#24659a" stroke-width="1.0"/>
<circle cx="235.70" cy="314.82" r="1.25" fill="none" stroke="#24659a" stroke-width="1.0"/>
<circle cx="233.00" cy="287.16" r="1.25" fill="none" stroke="#24659a" stroke-width="1.0"/>
<circle cx="244.70" cy="288.62" r="1.25" fill="none" stroke="#24659a" stroke-width="1.0"/>
<circle cx="230.30" cy="288.68" r="1.25" fill="none" stroke="#24659a" stroke-width="1.0"/>
<circle cx="245.60" cy="310.93" r="1.25" fill="none" stroke="#24659a" stroke-width="1.0"/>
<circle cx="229.40" cy="306.59" r="1.25" fill="none" stroke="#24659a" stroke-width="1.0"/>
<circle cx="234.80" cy="273.01" r="1.25" fill="none" stroke="#24659a" stroke-width="1.0"/>
<circle cx="232.49" cy="286.32" r="1.25" fill="none" stroke="#24659a" stroke-width="1.0"/>
<line x1="157.30" y1="221.30" x2="157.30" y2="321.45" stroke="#2a2a2a" stroke-width="1.3"/>
<line x1="156.65" y1="320.80" x2="253.80" y2="320.80" stroke="#2a2a2a" stroke-width="1.3"/>
<line x1="154.10" y1="304.90" x2="157.30" y2="304.90" stroke="#2a2a2a" stroke-width="1"/>
<text x="150.90" y="307.75" font-size="8" fill="#1e1e1e" text-anchor="end" font-weight="normal" stroke="#1e1e1e" stroke-width="0.3">0.5</text>
<line x1="154.10" y1="265.00" x2="157.30" y2="265.00" stroke="#2a2a2a" stroke-width="1"/>
<text x="150.90" y="267.85" font-size="8" fill="#1e1e1e" text-anchor="end" font-weight="normal" stroke="#1e1e1e" stroke-width="0.3">1.0</text>
<line x1="154.10" y1="225.20" x2="157.30" y2="225.20" stroke="#2a2a2a" stroke-width="1"/>
<text x="150.90" y="228.05" font-size="8" fill="#1e1e1e" text-anchor="end" font-weight="normal" stroke="#1e1e1e" stroke-width="0.3">1.5</text>
<line x1="173.40" y1="320.80" x2="173.40" y2="323.40" stroke="#2a2a2a" stroke-width="1"/>
<text x="173.40" y="334.30" font-size="7.7" fill="#1e1e1e" text-anchor="middle" font-weight="normal" stroke="#1e1e1e" stroke-width="0.3">pre</text>
<line x1="205.40" y1="320.80" x2="205.40" y2="323.40" stroke="#2a2a2a" stroke-width="1"/>
<text x="205.40" y="334.30" font-size="7.7" fill="#1e1e1e" text-anchor="middle" font-weight="normal" stroke="#1e1e1e" stroke-width="0.3">post</text>
<line x1="237.50" y1="320.80" x2="237.50" y2="323.40" stroke="#2a2a2a" stroke-width="1"/>
<text x="237.50" y="334.30" font-size="7.7" fill="#1e1e1e" text-anchor="middle" font-weight="normal" stroke="#1e1e1e" stroke-width="0.3">week</text>
<circle cx="206.00" cy="228.50" r="1.4" fill="#111"/>
<circle cx="234.00" cy="259.50" r="1.4" fill="#111"/>
<path d="M240.70,263.90 L241.20,257.10 M243.10,263.90 L243.60,257.10 M239.20,259.30 L244.80,259.30 M239.00,261.80 L244.60,261.80" stroke="#1a1a1a" stroke-width="1.15" fill="none"/>
<text x="169.20" y="211.20" font-size="9.2" fill="#222" text-anchor="start" font-weight="normal" stroke="#222" stroke-width="0.3" textLength="88.10" lengthAdjust="spacingAndGlyphs">Mechanical hemolysis</text>
<text x="196.70" y="223.10" font-size="9.2" fill="#222" text-anchor="start" font-weight="normal" stroke="#222" stroke-width="0.3" textLength="31.80" lengthAdjust="spacingAndGlyphs">(MFI %)</text>
<rect x="297.40" y="258.30" width="93.60" height="50.60" fill="#dadada" stroke="none" stroke-width="1"/>
<rect x="301.30" y="285.20" width="22.10" height="35.60" fill="none" stroke="#2c8f79" stroke-width="1.2"/>
<line x1="312.35" y1="265.20" x2="312.35" y2="305.20" stroke="#2c8f79" stroke-width="1.25"/>
<line x1="309.75" y1="265.20" x2="314.95" y2="265.20" stroke="#2c8f79" stroke-width="1.25"/>
<line x1="309.75" y1="305.20" x2="314.95" y2="305.20" stroke="#2c8f79" stroke-width="1.25"/>
<circle cx="312.35" cy="275.67" r="1.05" fill="#1b6f5b"/>
<circle cx="312.35" cy="284.09" r="1.05" fill="#1b6f5b"/>
<circle cx="312.35" cy="300.30" r="1.05" fill="#1b6f5b"/>
<circle cx="312.35" cy="293.06" r="1.05" fill="#1b6f5b"/>
<circle cx="312.35" cy="233.80" r="1.05" fill="#1b6f5b"/>
<circle cx="315.05" cy="282.10" r="1.05" fill="#1b6f5b"/>
<circle cx="315.05" cy="285.93" r="1.05" fill="#1b6f5b"/>
<circle cx="312.35" cy="303.36" r="1.05" fill="#1b6f5b"/>
<circle cx="312.35" cy="249.58" r="1.05" fill="#1b6f5b"/>
<circle cx="312.35" cy="278.74" r="1.05" fill="#1b6f5b"/>
<circle cx="315.95" cy="300.06" r="1.05" fill="#1b6f5b"/>
<circle cx="315.95" cy="274.67" r="1.05" fill="#1b6f5b"/>
<circle cx="308.75" cy="283.36" r="1.05" fill="#1b6f5b"/>
<circle cx="312.35" cy="266.94" r="1.05" fill="#1b6f5b"/>
<circle cx="315.95" cy="292.36" r="1.05" fill="#1b6f5b"/>
<circle cx="315.95" cy="266.21" r="1.05" fill="#1b6f5b"/>
<circle cx="309.65" cy="276.96" r="1.05" fill="#1b6f5b"/>
<circle cx="312.35" cy="312.54" r="1.05" fill="#1b6f5b"/>
<circle cx="309.65" cy="291.18" r="1.05" fill="#1b6f5b"/>
<circle cx="318.65" cy="281.39" r="1.05" fill="#1b6f5b"/>
<circle cx="312.35" cy="296.50" r="1.05" fill="#1b6f5b"/>
<circle cx="312.35" cy="263.72" r="1.05" fill="#1b6f5b"/>
<circle cx="312.35" cy="289.99" r="1.05" fill="#1b6f5b"/>
<circle cx="306.95" cy="280.65" r="1.05" fill="#1b6f5b"/>
<circle cx="315.95" cy="312.90" r="1.05" fill="#1b6f5b"/>
<circle cx="315.95" cy="250.56" r="1.05" fill="#1b6f5b"/>
<circle cx="310.55" cy="287.64" r="1.05" fill="#1b6f5b"/>
<circle cx="308.75" cy="266.49" r="1.05" fill="#1b6f5b"/>
<circle cx="315.05" cy="247.40" r="1.05" fill="#1b6f5b"/>
<circle cx="312.35" cy="257.20" r="1.05" fill="#1b6f5b"/>
<circle cx="309.65" cy="251.14" r="1.05" fill="#1b6f5b"/>
<circle cx="316.85" cy="288.69" r="1.05" fill="#1b6f5b"/>
<circle cx="317.75" cy="277.15" r="1.05" fill="#1b6f5b"/>
<circle cx="309.65" cy="298.08" r="1.05" fill="#1b6f5b"/>
<circle cx="312.35" cy="272.72" r="1.05" fill="#1b6f5b"/>
<circle cx="312.35" cy="260.47" r="1.05" fill="#1b6f5b"/>
<circle cx="306.95" cy="288.04" r="1.05" fill="#1b6f5b"/>
<rect x="333.20" y="284.20" width="22.20" height="36.60" fill="none" stroke="#e6479d" stroke-width="1.2"/>
<line x1="344.30" y1="265.20" x2="344.30" y2="303.20" stroke="#e6479d" stroke-width="1.25"/>
<line x1="341.70" y1="265.20" x2="346.90" y2="265.20" stroke="#e6479d" stroke-width="1.25"/>
<line x1="341.70" y1="303.20" x2="346.90" y2="303.20" stroke="#e6479d" stroke-width="1.25"/>
<circle cx="344.30" cy="283.47" r="0.95" fill="#e0358c"/>
<circle cx="344.30" cy="291.92" r="0.95" fill="#e0358c"/>
<circle cx="344.30" cy="296.76" r="0.95" fill="#e0358c"/>
<circle cx="347.00" cy="294.93" r="0.95" fill="#e0358c"/>
<circle cx="344.30" cy="312.16" r="0.95" fill="#e0358c"/>
<circle cx="344.30" cy="268.45" r="0.95" fill="#e0358c"/>
<circle cx="347.00" cy="269.76" r="0.95" fill="#e0358c"/>
<circle cx="344.30" cy="273.73" r="0.95" fill="#e0358c"/>
<circle cx="346.10" cy="299.32" r="0.95" fill="#e0358c"/>
<circle cx="344.30" cy="279.86" r="0.95" fill="#e0358c"/>
<circle cx="346.10" cy="277.44" r="0.95" fill="#e0358c"/>
<circle cx="342.50" cy="299.39" r="0.95" fill="#e0358c"/>
<circle cx="341.60" cy="295.17" r="0.95" fill="#e0358c"/>
<circle cx="347.90" cy="273.32" r="0.95" fill="#e0358c"/>
<circle cx="349.70" cy="293.15" r="0.95" fill="#e0358c"/>
<circle cx="344.30" cy="256.94" r="0.95" fill="#e0358c"/>
<circle cx="338.90" cy="293.20" r="0.95" fill="#e0358c"/>
<circle cx="347.00" cy="281.95" r="0.95" fill="#e0358c"/>
<circle cx="344.30" cy="303.77" r="0.95" fill="#e0358c"/>
<circle cx="341.60" cy="271.57" r="0.95" fill="#e0358c"/>
<circle cx="341.60" cy="275.18" r="0.95" fill="#e0358c"/>
<circle cx="349.90" cy="292.96" r="0.95" fill="#e0358c"/>
<circle cx="349.70" cy="299.24" r="0.95" fill="#e0358c"/>
<circle cx="351.50" cy="295.79" r="0.95" fill="#e0358c"/>
<circle cx="341.60" cy="281.40" r="0.95" fill="#e0358c"/>
<circle cx="344.30" cy="308.05" r="0.95" fill="#e0358c"/>
<circle cx="339.80" cy="301.33" r="0.95" fill="#e0358c"/>
<circle cx="347.00" cy="305.42" r="0.95" fill="#e0358c"/>
<circle cx="336.20" cy="291.85" r="0.95" fill="#e0358c"/>
<circle cx="338.90" cy="273.51" r="0.95" fill="#e0358c"/>
<circle cx="347.90" cy="301.84" r="0.95" fill="#e0358c"/>
<circle cx="350.41" cy="292.20" r="0.95" fill="#e0358c"/>
<circle cx="347.00" cy="310.19" r="0.95" fill="#e0358c"/>
<circle cx="338.90" cy="269.63" r="0.95" fill="#e0358c"/>
<circle cx="344.30" cy="249.00" r="0.95" fill="#e0358c"/>
<circle cx="341.60" cy="310.67" r="0.95" fill="#e0358c"/>
<circle cx="351.50" cy="272.88" r="0.95" fill="#e0358c"/>
<rect x="365.20" y="281.30" width="22.00" height="39.50" fill="none" stroke="#3887b5" stroke-width="1.2"/>
<line x1="376.20" y1="256.00" x2="376.20" y2="306.60" stroke="#3887b5" stroke-width="1.25"/>
<line x1="373.60" y1="256.00" x2="378.80" y2="256.00" stroke="#3887b5" stroke-width="1.25"/>
<line x1="373.60" y1="306.60" x2="378.80" y2="306.60" stroke="#3887b5" stroke-width="1.25"/>
<circle cx="376.20" cy="254.02" r="1.25" fill="none" stroke="#24659a" stroke-width="1.0"/>
<circle cx="376.20" cy="267.36" r="1.25" fill="none" stroke="#24659a" stroke-width="1.0"/>
<circle cx="376.20" cy="282.30" r="1.25" fill="none" stroke="#24659a" stroke-width="1.0"/>
<circle cx="376.20" cy="296.23" r="1.25" fill="none" stroke="#24659a" stroke-width="1.0"/>
<circle cx="376.20" cy="274.64" r="1.25" fill="none" stroke="#24659a" stroke-width="1.0"/>
<circle cx="378.00" cy="277.36" r="1.25" fill="none" stroke="#24659a" stroke-width="1.0"/>
<circle cx="378.00" cy="256.53" r="1.25" fill="none" stroke="#24659a" stroke-width="1.0"/>
<circle cx="376.20" cy="285.42" r="1.25" fill="none" stroke="#24659a" stroke-width="1.0"/>
<circle cx="376.20" cy="306.03" r="1.25" fill="none" stroke="#24659a" stroke-width="1.0"/>
<circle cx="376.20" cy="262.73" r="1.25" fill="none" stroke="#24659a" stroke-width="1.0"/>
<circle cx="376.20" cy="271.23" r="1.25" fill="none" stroke="#24659a" stroke-width="1.0"/>
<circle cx="378.90" cy="287.60" r="1.25" fill="none" stroke="#24659a" stroke-width="1.0"/>
<circle cx="376.20" cy="290.87" r="1.25" fill="none" stroke="#24659a" stroke-width="1.0"/>
<circle cx="378.90" cy="294.40" r="1.25" fill="none" stroke="#24659a" stroke-width="1.0"/>
<circle cx="372.60" cy="286.24" r="1.25" fill="none" stroke="#24659a" stroke-width="1.0"/>
<circle cx="378.90" cy="268.87" r="1.25" fill="none" stroke="#24659a" stroke-width="1.0"/>
<circle cx="376.20" cy="247.00" r="1.25" fill="none" stroke="#24659a" stroke-width="1.0"/>
<circle cx="374.40" cy="277.18" r="1.25" fill="none" stroke="#24659a" stroke-width="1.0"/>
<circle cx="373.50" cy="294.50" r="1.25" fill="none" stroke="#24659a" stroke-width="1.0"/>
<circle cx="376.20" cy="299.96" r="1.25" fill="none" stroke="#24659a" stroke-width="1.0"/>
<circle cx="373.50" cy="289.28" r="1.25" fill="none" stroke="#24659a" stroke-width="1.0"/>
<circle cx="380.70" cy="290.05" r="1.25" fill="none" stroke="#24659a" stroke-width="1.0"/>
<circle cx="372.60" cy="270.65" r="1.25" fill="none" stroke="#24659a" stroke-width="1.0"/>
<circle cx="374.40" cy="257.48" r="1.25" fill="none" stroke="#24659a" stroke-width="1.0"/>
<circle cx="369.90" cy="288.73" r="1.25" fill="none" stroke="#24659a" stroke-width="1.0"/>
<circle cx="380.70" cy="278.90" r="1.25" fill="none" stroke="#24659a" stroke-width="1.0"/>
<circle cx="371.70" cy="278.64" r="1.25" fill="none" stroke="#24659a" stroke-width="1.0"/>
<circle cx="379.80" cy="262.59" r="1.25" fill="none" stroke="#24659a" stroke-width="1.0"/>
<circle cx="379.80" cy="284.54" r="1.25" fill="none" stroke="#24659a" stroke-width="1.0"/>
<circle cx="382.50" cy="287.04" r="1.25" fill="none" stroke="#24659a" stroke-width="1.0"/>
<circle cx="377.10" cy="259.94" r="1.25" fill="none" stroke="#24659a" stroke-width="1.0"/>
<circle cx="380.70" cy="259.02" r="1.25" fill="none" stroke="#24659a" stroke-width="1.0"/>
<circle cx="384.30" cy="290.51" r="1.25" fill="none" stroke="#24659a" stroke-width="1.0"/>
<circle cx="384.30" cy="279.67" r="1.25" fill="none" stroke="#24659a" stroke-width="1.0"/>
<circle cx="379.80" cy="274.11" r="1.25" fill="none" stroke="#24659a" stroke-width="1.0"/>
<circle cx="370.85" cy="289.07" r="1.25" fill="none" stroke="#24659a" stroke-width="1.0"/>
<circle cx="376.20" cy="236.00" r="1.25" fill="none" stroke="#24659a" stroke-width="1.0"/>
<circle cx="368.10" cy="279.45" r="1.25" fill="none" stroke="#24659a" stroke-width="1.0"/>
<circle cx="369.00" cy="285.45" r="1.25" fill="none" stroke="#24659a" stroke-width="1.0"/>
<circle cx="381.60" cy="271.65" r="1.25" fill="none" stroke="#24659a" stroke-width="1.0"/>
<circle cx="372.60" cy="274.39" r="1.25" fill="none" stroke="#24659a" stroke-width="1.0"/>
<circle cx="379.80" cy="254.03" r="1.25" fill="none" stroke="#24659a" stroke-width="1.0"/>
<line x1="296.30" y1="221.10" x2="296.30" y2="321.45" stroke="#2a2a2a" stroke-width="1.3"/>
<line x1="295.65" y1="320.80" x2="392.00" y2="320.80" stroke="#2a2a2a" stroke-width="1.3"/>
<line x1="312.35" y1="320.80" x2="312.35" y2="323.40" stroke="#2a2a2a" stroke-width="1"/>
<text x="312.35" y="334.30" font-size="7.7" fill="#1e1e1e" text-anchor="middle" font-weight="normal" stroke="#1e1e1e" stroke-width="0.3">pre</text>
<line x1="344.30" y1="320.80" x2="344.30" y2="323.40" stroke="#2a2a2a" stroke-width="1"/>
<text x="344.30" y="334.30" font-size="7.7" fill="#1e1e1e" text-anchor="middle" font-weight="normal" stroke="#1e1e1e" stroke-width="0.3">post</text>
<line x1="376.20" y1="320.80" x2="376.20" y2="323.40" stroke="#2a2a2a" stroke-width="1"/>
<text x="376.20" y="334.30" font-size="7.7" fill="#1e1e1e" text-anchor="middle" font-weight="normal" stroke="#1e1e1e" stroke-width="0.3">week</text>
<circle cx="372.50" cy="228.50" r="1.4" fill="#111"/>
<path d="M378.60,234.30 L379.10,227.50 M381.00,234.30 L381.50,227.50 M377.10,229.70 L382.70,229.70 M376.90,232.20 L382.50,232.20" stroke="#1a1a1a" stroke-width="1.15" fill="none"/>
<text x="315.00" y="211.90" font-size="9.2" fill="#222" text-anchor="start" font-weight="normal" stroke="#222" stroke-width="0.3" textLength="52.70" lengthAdjust="spacingAndGlyphs">PPAm (RFU)</text>
<line x1="293.10" y1="298.80" x2="296.30" y2="298.80" stroke="#2a2a2a" stroke-width="1"/>
<text x="266.90" y="302.80" font-size="8" fill="#222" text-anchor="start" font-weight="normal" stroke="#222" stroke-width="0.3" textLength="19.70" lengthAdjust="spacingAndGlyphs">2×10</text>
<text x="287.60" y="300.30" font-size="4.6" fill="#1e1e1e" text-anchor="start" font-weight="normal" stroke="#1e1e1e" stroke-width="0.1">4</text>
<line x1="293.10" y1="269.60" x2="296.30" y2="269.60" stroke="#2a2a2a" stroke-width="1"/>
<text x="266.90" y="273.60" font-size="8" fill="#222" text-anchor="start" font-weight="normal" stroke="#222" stroke-width="0.3" textLength="19.70" lengthAdjust="spacingAndGlyphs">4×10</text>
<text x="287.60" y="271.10" font-size="4.6" fill="#1e1e1e" text-anchor="start" font-weight="normal" stroke="#1e1e1e" stroke-width="0.1">4</text>
<line x1="293.10" y1="239.50" x2="296.30" y2="239.50" stroke="#2a2a2a" stroke-width="1"/>
<text x="266.90" y="243.50" font-size="8" fill="#222" text-anchor="start" font-weight="normal" stroke="#222" stroke-width="0.3" textLength="19.70" lengthAdjust="spacingAndGlyphs">6×10</text>
<text x="287.60" y="241.00" font-size="4.6" fill="#1e1e1e" text-anchor="start" font-weight="normal" stroke="#1e1e1e" stroke-width="0.1">4</text>
<rect x="422.60" y="276.40" width="87.60" height="18.20" fill="#dadada" stroke="none" stroke-width="1"/>
<rect x="425.90" y="269.50" width="21.60" height="51.30" fill="none" stroke="#2c8f79" stroke-width="1.2"/>
<line x1="436.70" y1="250.50" x2="436.70" y2="288.50" stroke="#2c8f79" stroke-width="1.25"/>
<line x1="434.10" y1="250.50" x2="439.30" y2="250.50" stroke="#2c8f79" stroke-width="1.25"/>
<line x1="434.10" y1="288.50" x2="439.30" y2="288.50" stroke="#2c8f79" stroke-width="1.25"/>
<circle cx="436.70" cy="285.50" r="1.05" fill="#1b6f5b"/>
<circle cx="436.70" cy="271.21" r="1.05" fill="#1b6f5b"/>
<circle cx="438.50" cy="288.18" r="1.05" fill="#1b6f5b"/>
<circle cx="436.70" cy="266.73" r="1.05" fill="#1b6f5b"/>
<circle cx="436.70" cy="254.64" r="1.05" fill="#1b6f5b"/>
<circle cx="440.30" cy="270.26" r="1.05" fill="#1b6f5b"/>
<circle cx="438.50" cy="273.50" r="1.05" fill="#1b6f5b"/>
<circle cx="438.50" cy="282.99" r="1.05" fill="#1b6f5b"/>
<circle cx="435.80" cy="274.64" r="1.05" fill="#1b6f5b"/>
<circle cx="434.90" cy="282.03" r="1.05" fill="#1b6f5b"/>
<circle cx="436.70" cy="260.59" r="1.05" fill="#1b6f5b"/>
<circle cx="433.10" cy="272.88" r="1.05" fill="#1b6f5b"/>
<circle cx="432.20" cy="283.16" r="1.05" fill="#1b6f5b"/>
<circle cx="439.40" cy="252.86" r="1.05" fill="#1b6f5b"/>
<circle cx="440.30" cy="280.31" r="1.05" fill="#1b6f5b"/>
<circle cx="437.60" cy="257.41" r="1.05" fill="#1b6f5b"/>
<circle cx="436.70" cy="237.70" r="1.05" fill="#1b6f5b"/>
<circle cx="439.40" cy="264.62" r="1.05" fill="#1b6f5b"/>
<circle cx="443.00" cy="271.42" r="1.05" fill="#1b6f5b"/>
<circle cx="431.30" cy="270.29" r="1.05" fill="#1b6f5b"/>
<circle cx="436.70" cy="279.55" r="1.05" fill="#1b6f5b"/>
<circle cx="439.59" cy="269.75" r="1.05" fill="#1b6f5b"/>
<circle cx="434.00" cy="268.68" r="1.05" fill="#1b6f5b"/>
<circle cx="428.60" cy="272.36" r="1.05" fill="#1b6f5b"/>
<circle cx="439.40" cy="239.50" r="1.05" fill="#1b6f5b"/>
<circle cx="440.82" cy="271.54" r="1.05" fill="#1b6f5b"/>
<circle cx="433.10" cy="286.30" r="1.05" fill="#1b6f5b"/>
<circle cx="443.00" cy="281.63" r="1.05" fill="#1b6f5b"/>
<circle cx="434.00" cy="264.79" r="1.05" fill="#1b6f5b"/>
<circle cx="443.00" cy="264.29" r="1.05" fill="#1b6f5b"/>
<circle cx="442.10" cy="274.47" r="1.05" fill="#1b6f5b"/>
<circle cx="441.20" cy="284.54" r="1.05" fill="#1b6f5b"/>
<circle cx="431.30" cy="263.67" r="1.05" fill="#1b6f5b"/>
<circle cx="429.50" cy="284.58" r="1.05" fill="#1b6f5b"/>
<circle cx="431.30" cy="275.29" r="1.05" fill="#1b6f5b"/>
<circle cx="434.00" cy="258.31" r="1.05" fill="#1b6f5b"/>
<circle cx="440.30" cy="260.25" r="1.05" fill="#1b6f5b"/>
<circle cx="431.30" cy="259.59" r="1.05" fill="#1b6f5b"/>
<rect x="456.30" y="269.10" width="21.90" height="51.70" fill="none" stroke="#e6479d" stroke-width="1.2"/>
<line x1="467.25" y1="250.50" x2="467.25" y2="287.70" stroke="#e6479d" stroke-width="1.25"/>
<line x1="464.65" y1="250.50" x2="469.85" y2="250.50" stroke="#e6479d" stroke-width="1.25"/>
<line x1="464.65" y1="287.70" x2="469.85" y2="287.70" stroke="#e6479d" stroke-width="1.25"/>
<circle cx="467.25" cy="273.73" r="0.95" fill="#e0358c"/>
<circle cx="467.25" cy="292.77" r="0.95" fill="#e0358c"/>
<circle cx="467.25" cy="285.12" r="0.95" fill="#e0358c"/>
<circle cx="467.25" cy="267.87" r="0.95" fill="#e0358c"/>
<circle cx="467.25" cy="296.76" r="0.95" fill="#e0358c"/>
<circle cx="470.85" cy="273.93" r="0.95" fill="#e0358c"/>
<circle cx="467.25" cy="280.53" r="0.95" fill="#e0358c"/>
<circle cx="467.25" cy="232.50" r="0.95" fill="#e0358c"/>
<circle cx="467.25" cy="251.52" r="0.95" fill="#e0358c"/>
<circle cx="470.85" cy="292.44" r="0.95" fill="#e0358c"/>
<circle cx="469.95" cy="295.45" r="0.95" fill="#e0358c"/>
<circle cx="470.85" cy="285.92" r="0.95" fill="#e0358c"/>
<circle cx="467.25" cy="261.97" r="0.95" fill="#e0358c"/>
<circle cx="469.95" cy="278.70" r="0.95" fill="#e0358c"/>
<circle cx="467.25" cy="288.92" r="0.95" fill="#e0358c"/>
<circle cx="463.65" cy="288.62" r="0.95" fill="#e0358c"/>
<circle cx="467.25" cy="241.14" r="0.95" fill="#e0358c"/>
<circle cx="464.55" cy="283.32" r="0.95" fill="#e0358c"/>
<circle cx="469.05" cy="254.27" r="0.95" fill="#e0358c"/>
<circle cx="462.75" cy="285.61" r="0.95" fill="#e0358c"/>
<circle cx="467.25" cy="244.76" r="0.95" fill="#e0358c"/>
<circle cx="463.65" cy="273.24" r="0.95" fill="#e0358c"/>
<circle cx="469.95" cy="266.27" r="0.95" fill="#e0358c"/>
<circle cx="474.45" cy="273.88" r="0.95" fill="#e0358c"/>
<circle cx="474.45" cy="286.82" r="0.95" fill="#e0358c"/>
<circle cx="460.05" cy="287.16" r="0.95" fill="#e0358c"/>
<circle cx="464.55" cy="297.85" r="0.95" fill="#e0358c"/>
<circle cx="464.55" cy="293.90" r="0.95" fill="#e0358c"/>
<circle cx="469.05" cy="271.22" r="0.95" fill="#e0358c"/>
<circle cx="469.95" cy="282.61" r="0.95" fill="#e0358c"/>
<circle cx="469.95" cy="246.15" r="0.95" fill="#e0358c"/>
<circle cx="464.55" cy="269.34" r="0.95" fill="#e0358c"/>
<circle cx="464.55" cy="266.06" r="0.95" fill="#e0358c"/>
<circle cx="467.25" cy="236.00" r="0.95" fill="#e0358c"/>
<circle cx="469.95" cy="259.73" r="0.95" fill="#e0358c"/>
<circle cx="467.25" cy="277.38" r="0.95" fill="#e0358c"/>
<circle cx="464.55" cy="245.96" r="0.95" fill="#e0358c"/>
<circle cx="473.55" cy="290.20" r="0.95" fill="#e0358c"/>
<rect x="486.70" y="274.00" width="21.90" height="46.80" fill="none" stroke="#3887b5" stroke-width="1.2"/>
<line x1="497.65" y1="250.50" x2="497.65" y2="297.50" stroke="#3887b5" stroke-width="1.25"/>
<line x1="495.05" y1="250.50" x2="500.25" y2="250.50" stroke="#3887b5" stroke-width="1.25"/>
<line x1="495.05" y1="297.50" x2="500.25" y2="297.50" stroke="#3887b5" stroke-width="1.25"/>
<circle cx="497.65" cy="281.71" r="1.25" fill="none" stroke="#24659a" stroke-width="1.0"/>
<circle cx="497.65" cy="288.83" r="1.25" fill="none" stroke="#24659a" stroke-width="1.0"/>
<circle cx="497.65" cy="292.05" r="1.25" fill="none" stroke="#24659a" stroke-width="1.0"/>
<circle cx="497.65" cy="263.05" r="1.25" fill="none" stroke="#24659a" stroke-width="1.0"/>
<circle cx="497.65" cy="267.14" r="1.25" fill="none" stroke="#24659a" stroke-width="1.0"/>
<circle cx="499.45" cy="279.16" r="1.25" fill="none" stroke="#24659a" stroke-width="1.0"/>
<circle cx="500.35" cy="290.89" r="1.25" fill="none" stroke="#24659a" stroke-width="1.0"/>
<circle cx="500.35" cy="287.52" r="1.25" fill="none" stroke="#24659a" stroke-width="1.0"/>
<circle cx="497.65" cy="275.63" r="1.25" fill="none" stroke="#24659a" stroke-width="1.0"/>
<circle cx="497.65" cy="299.25" r="1.25" fill="none" stroke="#24659a" stroke-width="1.0"/>
<circle cx="499.45" cy="294.42" r="1.25" fill="none" stroke="#24659a" stroke-width="1.0"/>
<circle cx="497.65" cy="285.68" r="1.25" fill="none" stroke="#24659a" stroke-width="1.0"/>
<circle cx="500.35" cy="274.56" r="1.25" fill="none" stroke="#24659a" stroke-width="1.0"/>
<circle cx="499.45" cy="269.83" r="1.25" fill="none" stroke="#24659a" stroke-width="1.0"/>
<circle cx="500.35" cy="261.53" r="1.25" fill="none" stroke="#24659a" stroke-width="1.0"/>
<circle cx="494.05" cy="263.90" r="1.25" fill="none" stroke="#24659a" stroke-width="1.0"/>
<circle cx="497.65" cy="250.96" r="1.25" fill="none" stroke="#24659a" stroke-width="1.0"/>
<circle cx="495.85" cy="295.37" r="1.25" fill="none" stroke="#24659a" stroke-width="1.0"/>
<circle cx="500.35" cy="300.71" r="1.25" fill="none" stroke="#24659a" stroke-width="1.0"/>
<circle cx="495.85" cy="269.46" r="1.25" fill="none" stroke="#24659a" stroke-width="1.0"/>
<circle cx="497.65" cy="304.79" r="1.25" fill="none" stroke="#24659a" stroke-width="1.0"/>
<circle cx="493.15" cy="270.84" r="1.25" fill="none" stroke="#24659a" stroke-width="1.0"/>
<circle cx="494.05" cy="275.94" r="1.25" fill="none" stroke="#24659a" stroke-width="1.0"/>
<circle cx="494.95" cy="280.16" r="1.25" fill="none" stroke="#24659a" stroke-width="1.0"/>
<circle cx="502.15" cy="277.20" r="1.25" fill="none" stroke="#24659a" stroke-width="1.0"/>
<circle cx="494.95" cy="286.81" r="1.25" fill="none" stroke="#24659a" stroke-width="1.0"/>
<circle cx="500.35" cy="265.80" r="1.25" fill="none" stroke="#24659a" stroke-width="1.0"/>
<circle cx="501.25" cy="281.86" r="1.25" fill="none" stroke="#24659a" stroke-width="1.0"/>
<circle cx="503.95" cy="261.96" r="1.25" fill="none" stroke="#24659a" stroke-width="1.0"/>
<circle cx="490.45" cy="276.65" r="1.25" fill="none" stroke="#24659a" stroke-width="1.0"/>
<circle cx="503.05" cy="270.10" r="1.25" fill="none" stroke="#24659a" stroke-width="1.0"/>
<circle cx="503.95" cy="280.56" r="1.25" fill="none" stroke="#24659a" stroke-width="1.0"/>
<circle cx="502.15" cy="293.26" r="1.25" fill="none" stroke="#24659a" stroke-width="1.0"/>
<circle cx="503.95" cy="273.72" r="1.25" fill="none" stroke="#24659a" stroke-width="1.0"/>
<circle cx="495.59" cy="275.87" r="1.25" fill="none" stroke="#24659a" stroke-width="1.0"/>
<circle cx="503.05" cy="285.52" r="1.25" fill="none" stroke="#24659a" stroke-width="1.0"/>
<circle cx="497.65" cy="257.39" r="1.25" fill="none" stroke="#24659a" stroke-width="1.0"/>
<circle cx="489.55" cy="271.53" r="1.25" fill="none" stroke="#24659a" stroke-width="1.0"/>
<circle cx="501.25" cy="256.43" r="1.25" fill="none" stroke="#24659a" stroke-width="1.0"/>
<circle cx="501.25" cy="304.16" r="1.25" fill="none" stroke="#24659a" stroke-width="1.0"/>
<circle cx="495.85" cy="260.56" r="1.25" fill="none" stroke="#24659a" stroke-width="1.0"/>
<circle cx="493.15" cy="289.40" r="1.25" fill="none" stroke="#24659a" stroke-width="1.0"/>
<line x1="421.80" y1="226.60" x2="421.80" y2="321.45" stroke="#2a2a2a" stroke-width="1.3"/>
<line x1="421.15" y1="320.80" x2="513.10" y2="320.80" stroke="#2a2a2a" stroke-width="1.3"/>
<line x1="418.60" y1="311.20" x2="421.80" y2="311.20" stroke="#2a2a2a" stroke-width="1"/>
<text x="415.40" y="314.05" font-size="8" fill="#1e1e1e" text-anchor="end" font-weight="normal" stroke="#1e1e1e" stroke-width="0.3">200</text>
<line x1="418.60" y1="270.40" x2="421.80" y2="270.40" stroke="#2a2a2a" stroke-width="1"/>
<text x="415.40" y="273.25" font-size="8" fill="#1e1e1e" text-anchor="end" font-weight="normal" stroke="#1e1e1e" stroke-width="0.3">400</text>
<line x1="418.60" y1="229.90" x2="421.80" y2="229.90" stroke="#2a2a2a" stroke-width="1"/>
<text x="415.40" y="232.75" font-size="8" fill="#1e1e1e" text-anchor="end" font-weight="normal" stroke="#1e1e1e" stroke-width="0.3">600</text>
<line x1="436.70" y1="320.80" x2="436.70" y2="323.40" stroke="#2a2a2a" stroke-width="1"/>
<text x="436.70" y="334.30" font-size="7.7" fill="#1e1e1e" text-anchor="middle" font-weight="normal" stroke="#1e1e1e" stroke-width="0.3">pre</text>
<line x1="467.25" y1="320.80" x2="467.25" y2="323.40" stroke="#2a2a2a" stroke-width="1"/>
<text x="467.25" y="334.30" font-size="7.7" fill="#1e1e1e" text-anchor="middle" font-weight="normal" stroke="#1e1e1e" stroke-width="0.3">post</text>
<line x1="497.65" y1="320.80" x2="497.65" y2="323.40" stroke="#2a2a2a" stroke-width="1"/>
<text x="497.65" y="334.30" font-size="7.7" fill="#1e1e1e" text-anchor="middle" font-weight="normal" stroke="#1e1e1e" stroke-width="0.3">week</text>
<circle cx="492.90" cy="242.30" r="1.4" fill="#111"/>
<path d="M498.30,248.00 L498.80,241.20 M500.70,248.00 L501.20,241.20 M496.80,243.40 L502.40,243.40 M496.60,245.90 L502.20,245.90" stroke="#1a1a1a" stroke-width="1.15" fill="none"/>
<text x="437.70" y="211.90" font-size="9.2" fill="#1e1e1e" text-anchor="start" font-weight="normal" stroke="#1e1e1e" stroke-width="0.3" textLength="58.60" lengthAdjust="spacingAndGlyphs">TAC (μM Fe<tspan font-size="5.6" dy="-3.4">2+</tspan><tspan dy="3.4">)</tspan></text>
<line x1="24.00" y1="376.50" x2="24.00" y2="488.60" stroke="#2a2a2a" stroke-width="1.3"/>
<line x1="23.40" y1="487.90" x2="159.50" y2="487.90" stroke="#2a2a2a" stroke-width="1.3"/>
<line x1="24.00" y1="487.90" x2="24.00" y2="491.20" stroke="#2a2a2a" stroke-width="1"/>
<line x1="74.10" y1="487.90" x2="74.10" y2="491.20" stroke="#2a2a2a" stroke-width="1"/>
<line x1="126.50" y1="487.90" x2="126.50" y2="491.20" stroke="#2a2a2a" stroke-width="1"/>
<text x="17.80" y="501.50" font-size="8" fill="#222" text-anchor="start" font-weight="normal" stroke="#222" stroke-width="0.3" textLength="9.70" lengthAdjust="spacingAndGlyphs">Pre</text>
<text x="66.60" y="501.50" font-size="8" fill="#222" text-anchor="start" font-weight="normal" stroke="#222" stroke-width="0.3" textLength="15.30" lengthAdjust="spacingAndGlyphs">Post</text>
<text x="116.80" y="501.50" font-size="8" fill="#222" text-anchor="start" font-weight="normal" stroke="#222" stroke-width="0.3" textLength="19.50" lengthAdjust="spacingAndGlyphs">Week</text>
<path d="M24,430.2 C60,414.5 100,397 132.6,382.9" stroke="#24557f" stroke-width="1.3" fill="none"/>
<path d="M24,430.2 C40,432.5 62,434 75.7,433.9 C92,433.5 100,426 132.6,405.8" stroke="#f2a63a" stroke-width="1.3" fill="none"/>
<path d="M24,430.2 C45,443 62,452 80.4,452 C100,452 112,437 132.6,428.4" stroke="#38b8d6" stroke-width="1.3" fill="none"/>
<path d="M24,430.2 C50,430 72,431.5 84,437 C100,446 118,463 132.3,475.5" stroke="#25715d" stroke-width="1.3" fill="none"/>
<circle cx="24.0" cy="430.2" r="4.6" fill="#000"/>
<text x="89.00" y="379.30" font-size="8.5" fill="#24557f" text-anchor="start" font-weight="normal" stroke="#24557f" stroke-width="0.08" textLength="55.20" lengthAdjust="spacingAndGlyphs">ADAMTS13: Ag</text>
<text x="113.90" y="403.40" font-size="8.5" fill="#f0aa48" text-anchor="start" font-weight="normal" stroke="#f0aa48" stroke-width="0.08" textLength="32.40" lengthAdjust="spacingAndGlyphs">Hepcidin,</text>
<text x="137.70" y="414.50" font-size="8.5" fill="#f0aa48" text-anchor="start" font-weight="normal" stroke="#f0aa48" stroke-width="0.08" textLength="16.30" lengthAdjust="spacingAndGlyphs">AT-III</text>
<text x="138.70" y="434.10" font-size="8.5" fill="#38b8d6" text-anchor="start" font-weight="normal" stroke="#38b8d6" stroke-width="0.08" textLength="17.00" lengthAdjust="spacingAndGlyphs">aPTT</text>
<text x="88.00" y="485.00" font-size="8.5" fill="#25715d" text-anchor="start" font-weight="normal" stroke="#25715d" stroke-width="0.08" textLength="56.70" lengthAdjust="spacingAndGlyphs">Thrombomodulin</text>
<rect x="195.30" y="425.20" width="80.00" height="62.60" fill="#dadada" stroke="none" stroke-width="1"/>
<line x1="194.10" y1="398.20" x2="194.10" y2="488.45" stroke="#2a2a2a" stroke-width="1.3"/>
<line x1="193.45" y1="487.80" x2="279.60" y2="487.80" stroke="#2a2a2a" stroke-width="1.3"/>
<line x1="190.90" y1="481.90" x2="194.10" y2="481.90" stroke="#2a2a2a" stroke-width="1"/>
<text x="187.70" y="484.75" font-size="8" fill="#1e1e1e" text-anchor="end" font-weight="normal" stroke="#1e1e1e" stroke-width="0.3">500</text>
<line x1="190.90" y1="449.70" x2="194.10" y2="449.70" stroke="#2a2a2a" stroke-width="1"/>
<text x="187.70" y="452.55" font-size="8" fill="#1e1e1e" text-anchor="end" font-weight="normal" stroke="#1e1e1e" stroke-width="0.3">1000</text>
<line x1="190.90" y1="417.20" x2="194.10" y2="417.20" stroke="#2a2a2a" stroke-width="1"/>
<text x="187.70" y="420.05" font-size="8" fill="#1e1e1e" text-anchor="end" font-weight="normal" stroke="#1e1e1e" stroke-width="0.3">1500</text>
<line x1="208.00" y1="487.80" x2="208.00" y2="490.40" stroke="#2a2a2a" stroke-width="1"/>
<text x="208.00" y="501.30" font-size="7.7" fill="#1e1e1e" text-anchor="middle" font-weight="normal" stroke="#1e1e1e" stroke-width="0.3">pre</text>
<line x1="236.30" y1="487.80" x2="236.30" y2="490.40" stroke="#2a2a2a" stroke-width="1"/>
<text x="236.30" y="501.30" font-size="7.7" fill="#1e1e1e" text-anchor="middle" font-weight="normal" stroke="#1e1e1e" stroke-width="0.3">post</text>
<line x1="264.60" y1="487.80" x2="264.60" y2="490.40" stroke="#2a2a2a" stroke-width="1"/>
<text x="264.60" y="501.30" font-size="7.7" fill="#1e1e1e" text-anchor="middle" font-weight="normal" stroke="#1e1e1e" stroke-width="0.3">week</text>
<line x1="208.00" y1="426.60" x2="208.00" y2="472.00" stroke="#0e0e0e" stroke-width="1.2"/>
<line x1="205.20" y1="426.60" x2="210.80" y2="426.60" stroke="#0e0e0e" stroke-width="1.15"/>
<line x1="205.20" y1="472.00" x2="210.80" y2="472.00" stroke="#0e0e0e" stroke-width="1.15"/>
<line x1="236.30" y1="421.80" x2="236.30" y2="467.40" stroke="#0e0e0e" stroke-width="1.2"/>
<line x1="233.50" y1="421.80" x2="239.10" y2="421.80" stroke="#0e0e0e" stroke-width="1.15"/>
<line x1="233.50" y1="467.40" x2="239.10" y2="467.40" stroke="#0e0e0e" stroke-width="1.15"/>
<line x1="264.60" y1="410.00" x2="264.60" y2="471.80" stroke="#0e0e0e" stroke-width="1.2"/>
<line x1="261.80" y1="410.00" x2="267.40" y2="410.00" stroke="#0e0e0e" stroke-width="1.15"/>
<line x1="261.80" y1="471.80" x2="267.40" y2="471.80" stroke="#0e0e0e" stroke-width="1.15"/>
<line x1="208.00" y1="448.80" x2="236.30" y2="445.30" stroke="#2e9b82" stroke-width="1.45"/>
<line x1="236.30" y1="445.30" x2="264.60" y2="441.80" stroke="#e2368f" stroke-width="1.45"/>
<circle cx="208.0" cy="448.8" r="2.1" fill="#155c48"/>
<path d="M233.80,447.20 L238.80,447.20 L236.30,442.80 Z" fill="#b02a72"/>
<path d="M262.10,443.70 L267.10,443.70 L264.60,439.30 Z" fill="#1f4580"/>
<circle cx="236.30" cy="415.90" r="1.4" fill="#111"/>
<circle cx="264.60" cy="404.70" r="1.4" fill="#111"/>
<text x="200.60" y="385.80" font-size="9.2" fill="#222" text-anchor="start" font-weight="normal" stroke="#222" stroke-width="0.3" textLength="65.90" lengthAdjust="spacingAndGlyphs">ADAMTS13: Ag</text>
<text x="219.20" y="396.90" font-size="9.2" fill="#222" text-anchor="start" font-weight="normal" stroke="#222" stroke-width="0.3" textLength="28.50" lengthAdjust="spacingAndGlyphs">(ng/ml)</text>
<rect x="305.20" y="443.10" width="80.50" height="18.90" fill="#dadada" stroke="none" stroke-width="1"/>
<line x1="304.60" y1="398.80" x2="304.60" y2="488.65" stroke="#2a2a2a" stroke-width="1.3"/>
<line x1="303.95" y1="488.00" x2="390.00" y2="488.00" stroke="#2a2a2a" stroke-width="1.3"/>
<line x1="301.40" y1="477.00" x2="304.60" y2="477.00" stroke="#2a2a2a" stroke-width="1"/>
<text x="298.20" y="479.85" font-size="8" fill="#1e1e1e" text-anchor="end" font-weight="normal" stroke="#1e1e1e" stroke-width="0.3">20</text>
<line x1="301.40" y1="455.10" x2="304.60" y2="455.10" stroke="#2a2a2a" stroke-width="1"/>
<text x="298.20" y="457.95" font-size="8" fill="#1e1e1e" text-anchor="end" font-weight="normal" stroke="#1e1e1e" stroke-width="0.3">30</text>
<line x1="301.40" y1="432.60" x2="304.60" y2="432.60" stroke="#2a2a2a" stroke-width="1"/>
<text x="298.20" y="435.45" font-size="8" fill="#1e1e1e" text-anchor="end" font-weight="normal" stroke="#1e1e1e" stroke-width="0.3">40</text>
<line x1="301.40" y1="410.60" x2="304.60" y2="410.60" stroke="#2a2a2a" stroke-width="1"/>
<text x="298.20" y="413.45" font-size="8" fill="#1e1e1e" text-anchor="end" font-weight="normal" stroke="#1e1e1e" stroke-width="0.3">50</text>
<line x1="318.40" y1="488.00" x2="318.40" y2="490.60" stroke="#2a2a2a" stroke-width="1"/>
<text x="318.40" y="501.50" font-size="7.7" fill="#1e1e1e" text-anchor="middle" font-weight="normal" stroke="#1e1e1e" stroke-width="0.3">pre</text>
<line x1="346.70" y1="488.00" x2="346.70" y2="490.60" stroke="#2a2a2a" stroke-width="1"/>
<text x="346.70" y="501.50" font-size="7.7" fill="#1e1e1e" text-anchor="middle" font-weight="normal" stroke="#1e1e1e" stroke-width="0.3">post</text>
<line x1="374.70" y1="488.00" x2="374.70" y2="490.60" stroke="#2a2a2a" stroke-width="1"/>
<text x="374.70" y="501.50" font-size="7.7" fill="#1e1e1e" text-anchor="middle" font-weight="normal" stroke="#1e1e1e" stroke-width="0.3">week</text>
<line x1="318.40" y1="423.50" x2="318.40" y2="460.00" stroke="#0e0e0e" stroke-width="1.2"/>
<line x1="315.60" y1="423.50" x2="321.20" y2="423.50" stroke="#0e0e0e" stroke-width="1.15"/>
<line x1="315.60" y1="460.00" x2="321.20" y2="460.00" stroke="#0e0e0e" stroke-width="1.15"/>
<line x1="346.70" y1="427.60" x2="346.70" y2="463.90" stroke="#0e0e0e" stroke-width="1.2"/>
<line x1="343.90" y1="427.60" x2="349.50" y2="427.60" stroke="#0e0e0e" stroke-width="1.15"/>
<line x1="343.90" y1="463.90" x2="349.50" y2="463.90" stroke="#0e0e0e" stroke-width="1.15"/>
<line x1="374.70" y1="421.60" x2="374.70" y2="461.40" stroke="#0e0e0e" stroke-width="1.2"/>
<line x1="371.90" y1="421.60" x2="377.50" y2="421.60" stroke="#0e0e0e" stroke-width="1.15"/>
<line x1="371.90" y1="461.40" x2="377.50" y2="461.40" stroke="#0e0e0e" stroke-width="1.15"/>
<line x1="318.40" y1="442.20" x2="346.70" y2="446.30" stroke="#2e9b82" stroke-width="1.45"/>
<line x1="346.70" y1="446.30" x2="374.70" y2="442.70" stroke="#e2368f" stroke-width="1.45"/>
<circle cx="318.4" cy="442.2" r="2.1" fill="#155c48"/>
<path d="M344.20,448.20 L349.20,448.20 L346.70,443.80 Z" fill="#b02a72"/>
<path d="M372.20,444.60 L377.20,444.60 L374.70,440.20 Z" fill="#1f4580"/>
<circle cx="346.70" cy="420.80" r="1.4" fill="#111"/>
<text x="316.30" y="388.80" font-size="9.2" fill="#222" text-anchor="start" font-weight="normal" stroke="#222" stroke-width="0.3" textLength="44.30" lengthAdjust="spacingAndGlyphs">aPTT (sec)</text>
<rect x="420.50" y="395.00" width="83.70" height="72.80" fill="#dadada" stroke="none" stroke-width="1"/>
<line x1="419.60" y1="399.10" x2="419.60" y2="488.65" stroke="#2a2a2a" stroke-width="1.3"/>
<line x1="418.95" y1="488.00" x2="508.20" y2="488.00" stroke="#2a2a2a" stroke-width="1.3"/>
<line x1="416.40" y1="487.70" x2="419.60" y2="487.70" stroke="#2a2a2a" stroke-width="1"/>
<text x="413.20" y="490.55" font-size="8" fill="#1e1e1e" text-anchor="end" font-weight="normal" stroke="#1e1e1e" stroke-width="0.3">60</text>
<line x1="416.40" y1="458.80" x2="419.60" y2="458.80" stroke="#2a2a2a" stroke-width="1"/>
<text x="413.20" y="461.65" font-size="8" fill="#1e1e1e" text-anchor="end" font-weight="normal" stroke="#1e1e1e" stroke-width="0.3">80</text>
<line x1="416.40" y1="430.30" x2="419.60" y2="430.30" stroke="#2a2a2a" stroke-width="1"/>
<text x="413.20" y="433.15" font-size="8" fill="#1e1e1e" text-anchor="end" font-weight="normal" stroke="#1e1e1e" stroke-width="0.3">100</text>
<line x1="416.40" y1="401.40" x2="419.60" y2="401.40" stroke="#2a2a2a" stroke-width="1"/>
<text x="413.20" y="404.25" font-size="8" fill="#1e1e1e" text-anchor="end" font-weight="normal" stroke="#1e1e1e" stroke-width="0.3">120</text>
<line x1="434.80" y1="488.00" x2="434.80" y2="490.60" stroke="#2a2a2a" stroke-width="1"/>
<text x="434.80" y="501.50" font-size="7.7" fill="#1e1e1e" text-anchor="middle" font-weight="normal" stroke="#1e1e1e" stroke-width="0.3">pre</text>
<line x1="463.80" y1="488.00" x2="463.80" y2="490.60" stroke="#2a2a2a" stroke-width="1"/>
<text x="463.80" y="501.50" font-size="7.7" fill="#1e1e1e" text-anchor="middle" font-weight="normal" stroke="#1e1e1e" stroke-width="0.3">post</text>
<line x1="493.60" y1="488.00" x2="493.60" y2="490.60" stroke="#2a2a2a" stroke-width="1"/>
<text x="493.60" y="501.50" font-size="7.7" fill="#1e1e1e" text-anchor="middle" font-weight="normal" stroke="#1e1e1e" stroke-width="0.3">week</text>
<line x1="434.80" y1="422.40" x2="434.80" y2="465.90" stroke="#0e0e0e" stroke-width="1.2"/>
<line x1="432.00" y1="422.40" x2="437.60" y2="422.40" stroke="#0e0e0e" stroke-width="1.15"/>
<line x1="432.00" y1="465.90" x2="437.60" y2="465.90" stroke="#0e0e0e" stroke-width="1.15"/>
<line x1="463.80" y1="423.20" x2="463.80" y2="467.80" stroke="#0e0e0e" stroke-width="1.2"/>
<line x1="461.00" y1="423.20" x2="466.60" y2="423.20" stroke="#0e0e0e" stroke-width="1.15"/>
<line x1="461.00" y1="467.80" x2="466.60" y2="467.80" stroke="#0e0e0e" stroke-width="1.15"/>
<line x1="493.60" y1="418.40" x2="493.60" y2="467.30" stroke="#0e0e0e" stroke-width="1.2"/>
<line x1="490.80" y1="418.40" x2="496.40" y2="418.40" stroke="#0e0e0e" stroke-width="1.15"/>
<line x1="490.80" y1="467.30" x2="496.40" y2="467.30" stroke="#0e0e0e" stroke-width="1.15"/>
<line x1="434.80" y1="444.50" x2="463.80" y2="446.00" stroke="#2e9b82" stroke-width="1.45"/>
<line x1="463.80" y1="446.00" x2="493.60" y2="443.10" stroke="#e2368f" stroke-width="1.45"/>
<circle cx="434.8" cy="444.5" r="2.1" fill="#155c48"/>
<path d="M461.30,447.90 L466.30,447.90 L463.80,443.50 Z" fill="#b02a72"/>
<path d="M491.10,445.00 L496.10,445.00 L493.60,440.60 Z" fill="#1f4580"/>
<circle cx="491.30" cy="411.40" r="1.4" fill="#111"/>
<path d="M497.70,416.80 L498.20,410.00 M500.10,416.80 L500.60,410.00 M496.20,412.20 L501.80,412.20 M496.00,414.70 L501.60,414.70" stroke="#1a1a1a" stroke-width="1.15" fill="none"/>
<text x="432.50" y="390.20" font-size="9.2" fill="#222" text-anchor="start" font-weight="normal" stroke="#222" stroke-width="0.3" textLength="63.50" lengthAdjust="spacingAndGlyphs">ATIII (% of Ctrl)</text>
</svg></body></html>
